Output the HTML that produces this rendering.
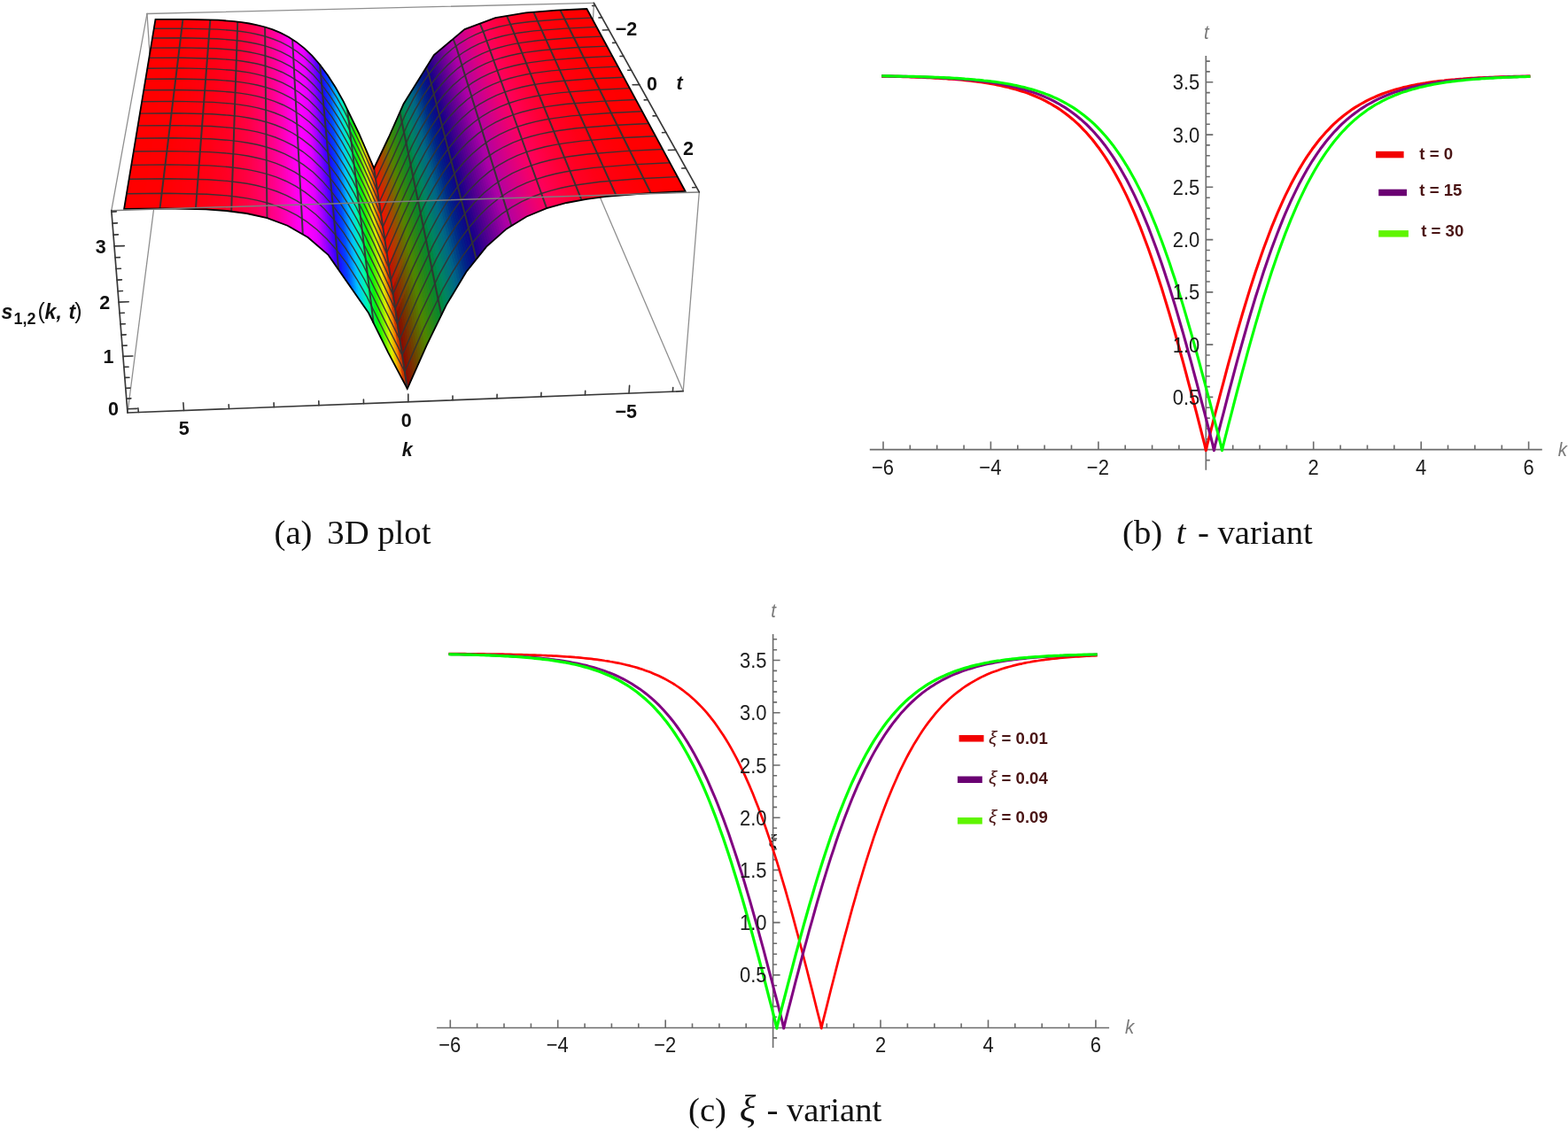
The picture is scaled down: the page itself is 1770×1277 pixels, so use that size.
<!DOCTYPE html>
<html lang="en"><head><meta charset="utf-8"><title>Figure: 3D plot, t - variant, xi - variant</title>
<style>html,body{margin:0;padding:0;background:#fff}body{width:1770px;height:1277px;overflow:hidden}svg{display:block}text{white-space:pre}</style></head><body>
<svg width="1770" height="1277" viewBox="0 0 1770 1277">
<rect width="1770" height="1277" fill="#fff"/>
<g id="plot3d">
<g id="box-back" fill="none" stroke-linecap="round">
<line x1="144" y1="466" x2="178.2" y2="200.2" stroke="#8f8f8f" stroke-width="1.3"/>
<line x1="771.2" y1="441.7" x2="661.4" y2="185.6" stroke="#8f8f8f" stroke-width="1.3"/>
<line x1="166" y1="15.5" x2="178.2" y2="200.2" stroke="#8f8f8f" stroke-width="1.3"/>
<line x1="670.4" y1="3.3" x2="661.4" y2="185.6" stroke="#8f8f8f" stroke-width="1.3"/>
<line x1="178.2" y1="200.2" x2="661.4" y2="185.6" stroke="#8f8f8f" stroke-width="1.3"/>
<line x1="166" y1="15.5" x2="670.4" y2="3.3" stroke="#8f8f8f" stroke-width="1.3"/>
<line x1="166" y1="15.5" x2="125.8" y2="237.7" stroke="#8f8f8f" stroke-width="1.3"/>
</g>
<g id="surf" stroke-width="0.5" stroke-linejoin="round" shape-rendering="crispEdges">
<polygon points="662.4,10 667.8,20.1 764.7,199.6 773.6,216 771.4,216.1 762.5,199.7 666.1,20.2 660.7,10.1" fill="#ff0000" stroke="#ff0000"/>
<polygon points="660.7,10.1 666.1,20.2 762.5,199.7 771.4,216.1 769.1,216.3 760.3,199.8 664.3,20.3 659,10.2" fill="#ff0000" stroke="#ff0000"/>
<polygon points="659,10.2 664.3,20.3 760.3,199.8 769.1,216.3 766.9,216.4 758.2,199.9 662.6,20.3 657.3,10.3" fill="#ff0000" stroke="#ff0000"/>
<polygon points="657.3,10.3 662.6,20.3 758.2,199.9 766.9,216.4 764.7,216.5 756,200 660.9,20.4 655.5,10.4" fill="#ff0001" stroke="#ff0001"/>
<polygon points="655.5,10.4 660.9,20.4 756,200 764.7,216.5 762.5,216.6 753.8,200.2 659.1,20.5 653.8,10.4" fill="#ff0001" stroke="#ff0001"/>
<polygon points="653.8,10.4 659.1,20.5 753.8,200.2 762.5,216.6 760.3,216.7 751.6,200.3 657.4,20.6 652.1,10.5" fill="#ff0001" stroke="#ff0001"/>
<polygon points="652.1,10.5 657.4,20.6 751.6,200.3 760.3,216.7 758,216.8 749.4,200.4 655.7,20.7 650.4,10.6" fill="#ff0001" stroke="#ff0001"/>
<polygon points="650.4,10.6 655.7,20.7 749.4,200.4 758,216.8 755.8,216.9 747.3,200.5 653.9,20.7 648.7,10.7" fill="#ff0001" stroke="#ff0001"/>
<polygon points="648.7,10.7 653.9,20.7 747.3,200.5 755.8,216.9 753.6,217 745.1,200.6 652.2,20.8 647,10.8" fill="#ff0001" stroke="#ff0001"/>
<polygon points="647,10.8 652.2,20.8 745.1,200.6 753.6,217 751.4,217.2 742.9,200.7 650.4,20.9 645.3,10.8" fill="#ff0001" stroke="#ff0001"/>
<polygon points="645.3,10.8 650.4,20.9 742.9,200.7 751.4,217.2 749.1,217.3 740.7,200.8 648.7,21 643.5,10.9" fill="#ff0002" stroke="#ff0002"/>
<polygon points="643.5,10.9 648.7,21 740.7,200.8 749.1,217.3 746.9,217.4 738.5,200.9 647,21.1 641.8,11" fill="#ff0002" stroke="#ff0002"/>
<polygon points="641.8,11 647,21.1 738.5,200.9 746.9,217.4 744.7,217.5 736.4,201 645.2,21.1 640.1,11.1" fill="#ff0002" stroke="#ff0002"/>
<polygon points="640.1,11.1 645.2,21.1 736.4,201 744.7,217.5 742.5,217.6 734.2,201.1 643.5,21.2 638.4,11.2" fill="#ff0002" stroke="#ff0002"/>
<polygon points="638.4,11.2 643.5,21.2 734.2,201.1 742.5,217.6 740.2,217.7 732,201.2 641.7,21.3 636.7,11.2" fill="#ff0002" stroke="#ff0002"/>
<polygon points="636.7,11.2 641.7,21.3 732,201.2 740.2,217.7 738,217.8 729.8,201.4 640,21.4 635,11.3" fill="#ff0002" stroke="#ff0002"/>
<polygon points="635,11.3 640,21.4 729.8,201.4 738,217.8 735.8,217.9 727.6,201.5 638.3,21.5 633.2,11.4" fill="#ff0003" stroke="#ff0003"/>
<polygon points="633.2,11.4 638.3,21.5 727.6,201.5 735.8,217.9 733.6,218.1 725.4,201.6 636.5,21.5 631.5,11.5" fill="#ff0003" stroke="#ff0003"/>
<polygon points="631.5,11.5 636.5,21.5 725.4,201.6 733.6,218.1 731.4,218.2 723.3,201.7 634.8,21.6 629.8,11.5" fill="#ff0003" stroke="#ff0003"/>
<polygon points="629.8,11.5 634.8,21.6 723.3,201.7 731.4,218.2 729.1,218.3 721.1,201.8 633,21.7 628.1,11.6" fill="#ff0003" stroke="#ff0003"/>
<polygon points="628.1,11.6 633,21.7 721.1,201.8 729.1,218.3 726.9,218.5 718.9,202 631.3,21.8 626.4,11.8" fill="#ff0004" stroke="#ff0004"/>
<polygon points="626.4,11.8 631.3,21.8 718.9,202 726.9,218.5 724.7,218.6 716.7,202.1 629.5,22 624.7,11.9" fill="#ff0005" stroke="#ff0005"/>
<polygon points="624.7,11.9 629.5,22 716.7,202.1 724.7,218.6 722.4,218.8 714.5,202.3 627.8,22.1 622.9,12" fill="#ff0006" stroke="#ff0006"/>
<polygon points="622.9,12 627.8,22.1 714.5,202.3 722.4,218.8 720.2,219 712.3,202.5 626.1,22.3 621.2,12.2" fill="#ff0007" stroke="#ff0007"/>
<polygon points="621.2,12.2 626.1,22.3 712.3,202.5 720.2,219 718,219.2 710.1,202.7 624.3,22.4 619.5,12.3" fill="#ff0007" stroke="#ff0007"/>
<polygon points="619.5,12.3 624.3,22.4 710.1,202.7 718,219.2 715.7,219.4 707.9,202.9 622.6,22.5 617.8,12.4" fill="#ff0008" stroke="#ff0008"/>
<polygon points="617.8,12.4 622.6,22.5 707.9,202.9 715.7,219.4 713.5,219.5 705.7,203 620.8,22.7 616.1,12.6" fill="#ff0009" stroke="#ff0009"/>
<polygon points="616.1,12.6 620.8,22.7 705.7,203 713.5,219.5 711.3,219.7 703.6,203.2 619.1,22.8 614.3,12.7" fill="#ff000a" stroke="#ff000a"/>
<polygon points="614.3,12.7 619.1,22.8 703.6,203.2 711.3,219.7 709.1,219.9 701.4,203.4 617.3,23 612.6,12.9" fill="#ff000b" stroke="#ff000b"/>
<polygon points="612.6,12.9 617.3,23 701.4,203.4 709.1,219.9 706.8,220.1 699.2,203.6 615.6,23.1 610.9,13" fill="#ff000c" stroke="#ff000c"/>
<polygon points="610.9,13 615.6,23.1 699.2,203.6 706.8,220.1 704.6,220.3 697,203.7 613.8,23.2 609.2,13.1" fill="#ff000d" stroke="#ff000d"/>
<polygon points="609.2,13.1 613.8,23.2 697,203.7 704.6,220.3 702.4,220.4 694.8,203.9 612.1,23.4 607.5,13.3" fill="#ff000e" stroke="#ff000e"/>
<polygon points="607.5,13.3 612.1,23.4 694.8,203.9 702.4,220.4 700.1,220.6 692.6,204.1 610.3,23.5 605.7,13.4" fill="#ff000e" stroke="#ff000e"/>
<polygon points="605.7,13.4 610.3,23.5 692.6,204.1 700.1,220.6 697.9,220.8 690.4,204.3 608.6,23.7 604,13.6" fill="#ff000f" stroke="#ff000f"/>
<polygon points="604,13.6 608.6,23.7 690.4,204.3 697.9,220.8 695.7,221 688.2,204.4 606.9,23.8 602.3,13.7" fill="#ff0010" stroke="#ff0010"/>
<polygon points="602.3,13.7 606.9,23.8 688.2,204.4 695.7,221 693.4,221.2 686,204.6 605.1,23.9 600.6,13.8" fill="#ff0011" stroke="#ff0011"/>
<polygon points="600.6,13.8 605.1,23.9 686,204.6 693.4,221.2 691.2,221.3 683.8,204.8 603.4,24.1 598.9,14" fill="#ff0012" stroke="#ff0012"/>
<polygon points="598.9,14 603.4,24.1 683.8,204.8 691.2,221.3 689,221.5 681.6,205 601.6,24.2 597.1,14.1" fill="#ff0013" stroke="#ff0013"/>
<polygon points="597.1,14.1 601.6,24.2 681.6,205 689,221.5 686.7,221.7 679.4,205.2 599.9,24.4 595.4,14.2" fill="#ff0014" stroke="#ff0014"/>
<polygon points="595.4,14.2 599.9,24.4 679.4,205.2 686.7,221.7 684.5,221.9 677.3,205.3 598.1,24.5 593.7,14.4" fill="#ff0014" stroke="#ff0014"/>
<polygon points="593.7,14.4 598.1,24.5 677.3,205.3 684.5,221.9 682.3,222.2 675.1,205.6 596.4,24.7 592,14.7" fill="#ff0016" stroke="#ff0016"/>
<polygon points="592,14.7 596.4,24.7 675.1,205.6 682.3,222.2 680,222.5 672.9,205.9 594.6,25 590.2,15" fill="#ff0017" stroke="#ff0017"/>
<polygon points="590.2,15 594.6,25 672.9,205.9 680,222.5 677.8,222.8 670.7,206.2 592.9,25.2 588.5,15.2" fill="#ff0019" stroke="#ff0019"/>
<polygon points="588.5,15.2 592.9,25.2 670.7,206.2 677.8,222.8 675.5,223 668.5,206.5 591.1,25.4 586.8,15.5" fill="#ff001b" stroke="#ff001b"/>
<polygon points="586.8,15.5 591.1,25.4 668.5,206.5 675.5,223 673.3,223.3 666.3,206.8 589.4,25.7 585.1,15.8" fill="#ff001c" stroke="#ff001c"/>
<polygon points="585.1,15.8 589.4,25.7 666.3,206.8 673.3,223.3 671.1,223.6 664.1,207 587.6,25.9 583.3,16.1" fill="#ff001e" stroke="#ff001e"/>
<polygon points="583.3,16.1 587.6,25.9 664.1,207 671.1,223.6 668.8,223.9 661.9,207.3 585.9,26.1 581.6,16.4" fill="#ff0020" stroke="#ff0020"/>
<polygon points="581.6,16.4 585.9,26.1 661.9,207.3 668.8,223.9 666.6,224.2 659.7,207.6 584.1,26.4 579.9,16.7" fill="#ff0021" stroke="#ff0021"/>
<polygon points="579.9,16.7 584.1,26.4 659.7,207.6 666.6,224.2 664.3,224.5 657.5,207.9 582.4,26.6 578.2,17" fill="#ff0023" stroke="#ff0023"/>
<polygon points="578.2,17 582.4,26.6 657.5,207.9 664.3,224.5 662.1,224.8 655.3,208.2 580.6,26.8 576.4,17.3" fill="#ff0025" stroke="#ff0025"/>
<polygon points="576.4,17.3 580.6,26.8 655.3,208.2 662.1,224.8 659.8,225.2 653.1,208.6 578.9,27.1 574.7,17.5" fill="#ff0027" stroke="#ff0027"/>
<polygon points="574.7,17.5 578.9,27.1 653.1,208.6 659.8,225.2 657.6,225.6 650.9,208.9 577.1,27.5 573,17.8" fill="#ff0029" stroke="#ff0029"/>
<polygon points="573,17.8 577.1,27.5 650.9,208.9 657.6,225.6 655.4,226 648.6,209.3 575.4,27.8 571.3,18.1" fill="#ff002b" stroke="#ff002b"/>
<polygon points="571.3,18.1 575.4,27.8 648.6,209.3 655.4,226 653.1,226.5 646.4,209.7 573.6,28.1 569.5,18.4" fill="#ff002d" stroke="#ff002d"/>
<polygon points="569.5,18.4 573.6,28.1 646.4,209.7 653.1,226.5 650.9,226.9 644.2,210 571.9,28.4 567.8,18.7" fill="#ff0030" stroke="#ff0030"/>
<polygon points="567.8,18.7 571.9,28.4 644.2,210 650.9,226.9 648.6,227.3 642,210.5 570.1,28.8 566.1,19" fill="#ff0032" stroke="#ff0032"/>
<polygon points="566.1,19 570.1,28.8 642,210.5 648.6,227.3 646.4,227.7 639.8,211 568.4,29.2 564.4,19.3" fill="#ff0035" stroke="#ff0035"/>
<polygon points="564.4,19.3 568.4,29.2 639.8,211 646.4,227.7 644.1,228.1 637.6,211.4 566.6,29.5 562.6,19.6" fill="#ff0037" stroke="#ff0037"/>
<polygon points="562.6,19.6 566.6,29.5 637.6,211.4 644.1,228.1 641.9,228.6 635.4,211.9 564.9,29.9 560.9,19.8" fill="#ff003a" stroke="#ff003a"/>
<polygon points="560.9,19.8 564.9,29.9 635.4,211.9 641.9,228.6 639.6,229 633.2,212.3 563.1,30.3 559.2,20.1" fill="#ff003d" stroke="#ff003d"/>
<polygon points="559.2,20.1 563.1,30.3 633.2,212.3 639.6,229 637.4,229.6 631,212.9 561.3,30.8 557.4,20.8" fill="#ff0040" stroke="#ff0040"/>
<polygon points="557.4,20.8 561.3,30.8 631,212.9 637.4,229.6 635.1,230.2 628.8,213.4 559.6,31.2 555.7,21.4" fill="#ff0043" stroke="#ff0043"/>
<polygon points="555.7,21.4 559.6,31.2 628.8,213.4 635.1,230.2 632.9,230.8 626.6,214 557.8,31.7 554,22.1" fill="#ff0046" stroke="#ff0046"/>
<polygon points="554,22.1 557.8,31.7 626.6,214 632.9,230.8 630.6,231.5 624.4,214.5 556.1,32.2 552.2,22.7" fill="#ff0049" stroke="#ff0049"/>
<polygon points="552.2,22.7 556.1,32.2 624.4,214.5 630.6,231.5 628.3,232.1 622.2,215.1 554.3,32.7 550.5,23.4" fill="#ff004c" stroke="#ff004c"/>
<polygon points="550.5,23.4 554.3,32.7 622.2,215.1 628.3,232.1 626.1,232.7 619.9,215.8 552.6,33.2 548.8,24" fill="#ff0050" stroke="#ff0050"/>
<polygon points="548.8,24 552.6,33.2 619.9,215.8 626.1,232.7 623.8,233.3 617.7,216.4 550.8,33.8 547,24.7" fill="#fe0053" stroke="#fe0053"/>
<polygon points="547,24.7 550.8,33.8 617.7,216.4 623.8,233.3 621.6,234 615.5,217.1 549.1,34.4 545.3,25.3" fill="#fe0057" stroke="#fe0057"/>
<polygon points="545.3,25.3 549.1,34.4 615.5,217.1 621.6,234 619.3,234.6 613.3,217.8 547.3,35 543.6,26" fill="#fd005a" stroke="#fd005a"/>
<polygon points="543.6,26 547.3,35 613.3,217.8 619.3,234.6 617.1,235.2 611.1,218.5 545.5,35.5 541.8,26.6" fill="#fd005e" stroke="#fd005e"/>
<polygon points="541.8,26.6 545.5,35.5 611.1,218.5 617.1,235.2 614.8,236.1 608.9,219.3 543.8,36.3 540.1,27.3" fill="#fb0062" stroke="#fb0062"/>
<polygon points="540.1,27.3 543.8,36.3 608.9,219.3 614.8,236.1 612.6,237.1 606.6,220.1 542,37 538.4,27.9" fill="#f80065" stroke="#f80065"/>
<polygon points="538.4,27.9 542,37 606.6,220.1 612.6,237.1 610.3,238 604.4,220.9 540.3,37.7 536.7,28.6" fill="#f40069" stroke="#f40069"/>
<polygon points="536.7,28.6 540.3,37.7 604.4,220.9 610.3,238 608,238.9 602.2,221.8 538.5,38.4 534.9,29.2" fill="#f1006d" stroke="#f1006d"/>
<polygon points="534.9,29.2 538.5,38.4 602.2,221.8 608,238.9 605.8,239.9 600,222.6 536.7,39.1 533.2,29.9" fill="#ee0071" stroke="#ee0071"/>
<polygon points="533.2,29.9 536.7,39.1 600,222.6 605.8,239.9 603.5,240.8 597.8,223.6 535,40 531.5,30.5" fill="#ea0074" stroke="#ea0074"/>
<polygon points="531.5,30.5 535,40 597.8,223.6 603.5,240.8 601.2,241.7 595.5,224.6 533.2,40.8 529.7,31.2" fill="#e60078" stroke="#e60078"/>
<polygon points="529.7,31.2 533.2,40.8 595.5,224.6 601.2,241.7 599,242.7 593.3,225.6 531.5,41.7 528,31.8" fill="#e2007c" stroke="#e2007c"/>
<polygon points="528,31.8 531.5,41.7 593.3,225.6 599,242.7 596.7,243.6 591.1,226.7 529.7,42.6 526.3,32.5" fill="#de007f" stroke="#de007f"/>
<polygon points="526.3,32.5 529.7,42.6 591.1,226.7 596.7,243.6 594.5,244.5 588.9,227.7 528,43.5 524.5,33.1" fill="#da0083" stroke="#da0083"/>
<polygon points="524.5,33.1 528,43.5 588.9,227.7 594.5,244.5 592.2,245.9 586.7,228.9 526.2,44.5 522.8,34.6" fill="#d60087" stroke="#d60087"/>
<polygon points="522.8,34.6 526.2,44.5 586.7,228.9 592.2,245.9 589.9,247.3 584.4,230.2 524.4,45.6 521.1,36" fill="#d1008a" stroke="#d1008a"/>
<polygon points="521.1,36 524.4,45.6 584.4,230.2 589.9,247.3 587.6,248.7 582.2,231.4 522.7,46.7 519.3,37.5" fill="#cc008d" stroke="#cc008d"/>
<polygon points="519.3,37.5 522.7,46.7 582.2,231.4 587.6,248.7 585.4,250.1 580,232.6 520.9,47.7 517.6,38.9" fill="#c80091" stroke="#c80091"/>
<polygon points="517.6,38.9 520.9,47.7 580,232.6 585.4,250.1 583.1,251.5 577.8,233.9 519.2,48.8 515.8,40.4" fill="#c30094" stroke="#c30094"/>
<polygon points="515.8,40.4 519.2,48.8 577.8,233.9 583.1,251.5 580.8,252.9 575.5,235.4 517.4,50.1 514.1,41.8" fill="#bf0098" stroke="#bf0098"/>
<polygon points="514.1,41.8 517.4,50.1 575.5,235.4 580.8,252.9 578.6,254.3 573.3,236.9 515.6,51.4 512.4,43.3" fill="#ba009b" stroke="#ba009b"/>
<polygon points="512.4,43.3 515.6,51.4 573.3,236.9 578.6,254.3 576.3,255.7 571.1,238.4 513.9,52.7 510.6,44.7" fill="#b5009f" stroke="#b5009f"/>
<polygon points="510.6,44.7 513.9,52.7 571.1,238.4 576.3,255.7 574,257 568.8,239.9 512.1,54 508.9,46.2" fill="#b100a2" stroke="#b100a2"/>
<polygon points="508.9,46.2 512.1,54 568.8,239.9 574,257 571.8,258.4 566.6,241.4 510.4,55.3 507.2,47.6" fill="#ad00a5" stroke="#ad00a5"/>
<polygon points="507.2,47.6 510.4,55.3 566.6,241.4 571.8,258.4 569.5,260.5 564.4,243.2 508.6,56.9 505.4,49" fill="#a500a5" stroke="#a500a5"/>
<polygon points="505.4,49 508.6,56.9 564.4,243.2 569.5,260.5 567.2,262.5 562.2,245 506.8,58.4 503.7,50.5" fill="#9b00a2" stroke="#9b00a2"/>
<polygon points="503.7,50.5 506.8,58.4 562.2,245 567.2,262.5 564.9,264.5 559.9,246.9 505.1,60 502,51.9" fill="#9100a0" stroke="#9100a0"/>
<polygon points="502,51.9 505.1,60 559.9,246.9 564.9,264.5 562.7,266.5 557.7,248.7 503.3,61.6 500.2,53.4" fill="#86009d" stroke="#86009d"/>
<polygon points="500.2,53.4 503.3,61.6 557.7,248.7 562.7,266.5 560.4,268.6 555.5,250.5 501.6,63.1 498.5,54.8" fill="#7c009a" stroke="#7c009a"/>
<polygon points="498.5,54.8 501.6,63.1 555.5,250.5 560.4,268.6 558.1,270.6 553.2,252.7 499.8,65 496.8,56.2" fill="#720098" stroke="#720098"/>
<polygon points="496.8,56.2 499.8,65 553.2,252.7 558.1,270.6 555.8,272.6 551,254.9 498,66.9 495.1,57.7" fill="#680095" stroke="#680095"/>
<polygon points="495.1,57.7 498,66.9 551,254.9 555.8,272.6 553.6,274.6 548.8,257 496.3,68.8 493.3,59.1" fill="#5e0093" stroke="#5e0093"/>
<polygon points="493.3,59.1 496.3,68.8 548.8,257 553.6,274.6 551.3,276.7 546.6,259.2 494.5,70.7 491.6,60.5" fill="#540091" stroke="#540091"/>
<polygon points="491.6,60.5 494.5,70.7 546.6,259.2 551.3,276.7 549,278.7 544.3,261.4 492.8,72.6 489.9,62" fill="#4a008f" stroke="#4a008f"/>
<polygon points="489.9,62 492.8,72.6 544.3,261.4 549,278.7 546.8,281.5 542.1,264 491,74.8 488.2,64.8" fill="#40008d" stroke="#40008d"/>
<polygon points="488.2,64.8 491,74.8 542.1,264 546.8,281.5 544.5,284.4 539.9,266.6 489.3,77 486.4,67.6" fill="#36008c" stroke="#36008c"/>
<polygon points="486.4,67.6 489.3,77 539.9,266.6 544.5,284.4 542.2,287.2 537.6,269.2 487.5,79.2 484.7,70.4" fill="#2b008b" stroke="#2b008b"/>
<polygon points="484.7,70.4 487.5,79.2 537.6,269.2 542.2,287.2 539.9,290 535.4,271.7 485.8,81.5 483,73.1" fill="#21008a" stroke="#21008a"/>
<polygon points="483,73.1 485.8,81.5 535.4,271.7 539.9,290 537.7,292.9 533.2,274.3 484,83.7 481.2,75.9" fill="#170089" stroke="#170089"/>
<polygon points="481.2,75.9 484,83.7 533.2,274.3 537.7,292.9 535.4,295.7 531,277.3 482.3,86.3 479.5,78.7" fill="#100489" stroke="#100489"/>
<polygon points="479.5,78.7 482.3,86.3 531,277.3 535.4,295.7 533.1,298.5 528.7,280.4 480.5,88.9 477.8,81.5" fill="#0d0c89" stroke="#0d0c89"/>
<polygon points="477.8,81.5 480.5,88.9 528.7,280.4 533.1,298.5 530.9,301.4 526.5,283.4 478.8,91.5 476.1,84.2" fill="#091388" stroke="#091388"/>
<polygon points="476.1,84.2 478.8,91.5 526.5,283.4 530.9,301.4 528.6,304.2 524.3,286.4 477,94.1 474.4,87" fill="#051b88" stroke="#051b88"/>
<polygon points="474.4,87 477,94.1 524.3,286.4 528.6,304.2 526.3,307 522.1,289.4 475.3,96.7 472.6,89.8" fill="#022388" stroke="#022388"/>
<polygon points="472.6,89.8 475.3,96.7 522.1,289.4 526.3,307 524.1,310.8 519.9,292.9 473.5,99.7 470.9,92.5" fill="#002d87" stroke="#002d87"/>
<polygon points="470.9,92.5 473.5,99.7 519.9,292.9 524.1,310.8 521.8,314.5 517.6,296.4 471.8,102.7 469.2,95.3" fill="#003a87" stroke="#003a87"/>
<polygon points="469.2,95.3 471.8,102.7 517.6,296.4 521.8,314.5 519.5,318.3 515.4,299.8 470.1,105.6 467.5,98" fill="#004787" stroke="#004787"/>
<polygon points="467.5,98 470.1,105.6 515.4,299.8 519.5,318.3 517.3,322 513.2,303.3 468.3,108.6 465.8,100.8" fill="#005487" stroke="#005487"/>
<polygon points="465.8,100.8 468.3,108.6 513.2,303.3 517.3,322 515,325.8 511,306.8 466.6,111.6 464.1,103.5" fill="#006187" stroke="#006187"/>
<polygon points="464.1,103.5 466.6,111.6 511,306.8 515,325.8 512.8,329.5 508.8,310.7 464.9,115 462.4,106.3" fill="#006a83" stroke="#006a83"/>
<polygon points="462.4,106.3 464.9,115 508.8,310.7 512.8,329.5 510.5,333.2 506.6,314.6 463.1,118.3 460.7,109" fill="#00717b" stroke="#00717b"/>
<polygon points="460.7,109 463.1,118.3 506.6,314.6 510.5,333.2 508.3,337 504.4,318.5 461.4,121.7 459,111.8" fill="#007772" stroke="#007772"/>
<polygon points="459,111.8 461.4,121.7 504.4,318.5 508.3,337 506.1,340.7 502.2,322.4 459.7,125 457.3,114.5" fill="#007e6a" stroke="#007e6a"/>
<polygon points="457.3,114.5 459.7,125 502.2,322.4 506.1,340.7 503.8,344.4 500,326.3 458,128.4 455.6,117.2" fill="#008461" stroke="#008461"/>
<polygon points="455.6,117.2 458,128.4 500,326.3 503.8,344.4 501.6,349 497.8,330.8 456.2,132.2 453.9,121" fill="#008755" stroke="#008755"/>
<polygon points="453.9,121 456.2,132.2 497.8,330.8 501.6,349 499.3,353.5 495.6,335.4 454.5,136 452.2,124.9" fill="#008743" stroke="#008743"/>
<polygon points="452.2,124.9 454.5,136 495.6,335.4 499.3,353.5 497.1,358.1 493.4,339.9 452.8,139.9 450.5,128.6" fill="#008732" stroke="#008732"/>
<polygon points="450.5,128.6 452.8,139.9 493.4,339.9 497.1,358.1 494.9,362.6 491.2,344.4 451.1,143.7 448.8,132.4" fill="#0a872b" stroke="#0a872b"/>
<polygon points="448.8,132.4 451.1,143.7 491.2,344.4 494.9,362.6 492.6,367.2 489,348.8 449.4,147.5 447.2,136.2" fill="#158725" stroke="#158725"/>
<polygon points="447.2,136.2 449.4,147.5 489,348.8 492.6,367.2 490.4,371.7 486.9,353.3 447.7,151.3 445.5,140" fill="#1f871e" stroke="#1f871e"/>
<polygon points="445.5,140 447.7,151.3 486.9,353.3 490.4,371.7 488.2,376.2 484.7,357.8 446,155.2 443.8,143.8" fill="#2a8717" stroke="#2a8717"/>
<polygon points="443.8,143.8 446,155.2 484.7,357.8 488.2,376.2 486,380.8 482.5,362.2 444.3,159 442.1,147.5" fill="#348711" stroke="#348711"/>
<polygon points="442.1,147.5 444.3,159 482.5,362.2 486,380.8 483.8,385.3 480.4,366.7 442.6,162.8 440.5,151.3" fill="#3f870a" stroke="#3f870a"/>
<polygon points="440.5,151.3 442.6,162.8 480.4,366.7 483.8,385.3 481.6,389.8 478.2,371.1 440.9,166.5 438.8,155" fill="#498703" stroke="#498703"/>
<polygon points="438.8,155 440.9,166.5 478.2,371.1 481.6,389.8 479.4,394.7 476,376 439.2,170.2 437.1,158.6" fill="#568100" stroke="#568100" stroke-width="1"/>
<polygon points="437.1,158.6 439.2,170.2 476,376 479.4,394.7 477.2,399.7 473.9,380.9 437.5,173.8 435.5,162.1" fill="#657400" stroke="#657400" stroke-width="1"/>
<polygon points="435.5,162.1 437.5,173.8 473.9,380.9 477.2,399.7 475,404.7 471.7,385.8 435.8,177.4 433.8,165.6" fill="#736700" stroke="#736700" stroke-width="1"/>
<polygon points="433.8,165.6 435.8,177.4 471.7,385.8 475,404.7 472.8,409.6 469.6,390.7 434.1,181 432.1,169.1" fill="#825b00" stroke="#825b00" stroke-width="1"/>
<polygon points="432.1,169.1 434.1,181 469.6,390.7 472.8,409.6 470.6,414.5 467.5,395.6 432.5,184.6 430.5,172.6" fill="#914e00" stroke="#914e00" stroke-width="1"/>
<polygon points="430.5,172.6 432.5,184.6 467.5,395.6 470.6,414.5 468.5,419.5 465.3,400.4 430.8,188.2 428.8,176.1" fill="#a04100" stroke="#a04100" stroke-width="1"/>
<polygon points="428.8,176.1 430.8,188.2 465.3,400.4 468.5,419.5 466.3,424.4 463.2,405.3 429.1,191.8 427.2,179.5" fill="#af3400" stroke="#af3400" stroke-width="1"/>
<polygon points="427.2,179.5 429.1,191.8 463.2,405.3 466.3,424.4 464.1,429.3 461.1,410.1 427.4,195.4 425.5,183" fill="#bd2800" stroke="#bd2800" stroke-width="1"/>
<polygon points="425.5,183 427.4,195.4 461.1,410.1 464.1,429.3 462,434.2 459,414.9 425.8,199 423.9,186.5" fill="#cc1b00" stroke="#cc1b00" stroke-width="1"/>
<polygon points="423.9,186.5 425.8,199 459,414.9 462,434.2 459.8,439 456.9,419.7 424.1,202.5 422.2,190" fill="#db0e00" stroke="#db0e00" stroke-width="1"/>
<polygon points="422.2,190 424.1,202.5 456.9,419.7 459.8,439 457.7,435 454.7,415.6 422.4,198.6 420.5,186" fill="#e51800" stroke="#e51800" stroke-width="1"/>
<polygon points="420.5,186 422.4,198.6 454.7,415.6 457.7,435 455.5,430.9 452.6,411.5 420.6,194.6 418.8,182.1" fill="#ea3a00" stroke="#ea3a00" stroke-width="1"/>
<polygon points="418.8,182.1 420.6,194.6 452.6,411.5 455.5,430.9 453.4,426.8 450.5,407.4 418.9,190.7 417.1,178.2" fill="#ef5b00" stroke="#ef5b00"/>
<polygon points="417.1,178.2 418.9,190.7 450.5,407.4 453.4,426.8 451.2,422.8 448.4,403.3 417.2,186.7 415.4,174.3" fill="#ef7c00" stroke="#ef7c00"/>
<polygon points="415.4,174.3 417.2,186.7 448.4,403.3 451.2,422.8 449.1,418.7 446.3,399.2 415.4,182.7 413.7,170.3" fill="#ef9d00" stroke="#ef9d00"/>
<polygon points="413.7,170.3 415.4,182.7 446.3,399.2 449.1,418.7 446.9,414.6 444.1,395.1 413.7,178.7 412,166.4" fill="#ecbb00" stroke="#ecbb00"/>
<polygon points="412,166.4 413.7,178.7 444.1,395.1 446.9,414.6 444.7,410.5 442,390.9 412,174.7 410.3,162.4" fill="#e6d600" stroke="#e6d600"/>
<polygon points="410.3,162.4 412,174.7 442,390.9 444.7,410.5 442.5,406.3 439.9,386.8 410.2,170.7 408.5,158.4" fill="#dff000" stroke="#dff000"/>
<polygon points="408.5,158.4 410.2,170.7 439.9,386.8 442.5,406.3 440.4,402.2 437.7,382.6 408.5,166.7 406.8,154.5" fill="#bef100" stroke="#bef100"/>
<polygon points="406.8,154.5 408.5,166.7 437.7,382.6 440.4,402.2 438.2,398.1 435.6,378.5 406.7,162.7 405.1,150.5" fill="#9df200" stroke="#9df200"/>
<polygon points="405.1,150.5 406.7,162.7 435.6,378.5 438.2,398.1 436,393.6 433.4,374.1 404.9,159 403.3,146.9" fill="#7df200" stroke="#7df200"/>
<polygon points="403.3,146.9 404.9,159 433.4,374.1 436,393.6 433.8,389.2 431.2,369.7 403.2,155.4 401.6,143.3" fill="#5ff300" stroke="#5ff300"/>
<polygon points="401.6,143.3 403.2,155.4 431.2,369.7 433.8,389.2 431.6,384.8 429.1,365.3 401.4,151.8 399.9,139.7" fill="#40f400" stroke="#40f400"/>
<polygon points="399.9,139.7 401.4,151.8 429.1,365.3 431.6,384.8 429.4,380.3 426.9,360.9 399.7,148.1 398.1,136.1" fill="#27f405" stroke="#27f405"/>
<polygon points="398.1,136.1 399.7,148.1 426.9,360.9 429.4,380.3 427.2,375.8 424.7,356.5 397.9,144.5 396.4,132.5" fill="#0df50b" stroke="#0df50b"/>
<polygon points="396.4,132.5 397.9,144.5 424.7,356.5 427.2,375.8 424.9,371.3 422.5,352.1 396.1,140.8 394.6,128.9" fill="#00f61d" stroke="#00f61d"/>
<polygon points="394.6,128.9 396.1,140.8 422.5,352.1 424.9,371.3 422.7,366.8 420.3,347.7 394.3,137.1 392.9,125.3" fill="#00f73d" stroke="#00f73d"/>
<polygon points="392.9,125.3 394.3,137.1 420.3,347.7 422.7,366.8 420.5,362.3 418.2,343.3 392.6,133.5 391.1,121.6" fill="#00f85c" stroke="#00f85c"/>
<polygon points="391.1,121.6 392.6,133.5 418.2,343.3 420.5,362.3 418.2,357.8 416,338.8 390.8,129.8 389.4,118" fill="#00f97c" stroke="#00f97c"/>
<polygon points="389.4,118 390.8,129.8 416,338.8 418.2,357.8 416,353.3 413.8,334.3 389,126.1 387.6,114.4" fill="#00fb9d" stroke="#00fb9d"/>
<polygon points="387.6,114.4 389,126.1 413.8,334.3 416,353.3 413.8,350.1 411.6,330.5 387.2,122.9 385.9,111.2" fill="#00f6b5" stroke="#00f6b5"/>
<polygon points="385.9,111.2 387.2,122.9 411.6,330.5 413.8,350.1 411.5,346.9 409.3,326.6 385.4,119.7 384.1,108.1" fill="#00ebc6" stroke="#00ebc6"/>
<polygon points="384.1,108.1 385.4,119.7 409.3,326.6 411.5,346.9 409.3,343.6 407.1,322.7 383.7,116.6 382.3,105" fill="#00e0d6" stroke="#00e0d6"/>
<polygon points="382.3,105 383.7,116.6 407.1,322.7 409.3,343.6 407,340.4 404.9,318.9 381.9,113.4 380.6,101.8" fill="#00d5e6" stroke="#00d5e6"/>
<polygon points="380.6,101.8 381.9,113.4 404.9,318.9 407,340.4 404.8,337.2 402.7,315 380.1,110.2 378.8,98.7" fill="#00cbf7" stroke="#00cbf7"/>
<polygon points="378.8,98.7 380.1,110.2 402.7,315 404.8,337.2 402.5,333.9 400.5,311.5 378.3,107.4 377,96" fill="#00b9ff" stroke="#00b9ff"/>
<polygon points="377,96 378.3,107.4 400.5,311.5 402.5,333.9 400.3,330.7 398.3,308.1 376.5,104.6 375.3,93.2" fill="#00a1ff" stroke="#00a1ff"/>
<polygon points="375.3,93.2 376.5,104.6 398.3,308.1 400.3,330.7 398,327.4 396,304.6 374.7,101.8 373.5,90.4" fill="#0088ff" stroke="#0088ff"/>
<polygon points="373.5,90.4 374.7,101.8 396,304.6 398,327.4 395.8,324.2 393.8,301.2 372.9,99 371.7,87.7" fill="#0070ff" stroke="#0070ff"/>
<polygon points="371.7,87.7 372.9,99 393.8,301.2 395.8,324.2 393.5,320.9 391.6,297.7 371.1,96.2 370,84.9" fill="#0057ff" stroke="#0057ff"/>
<polygon points="370,84.9 371.1,96.2 391.6,297.7 393.5,320.9 391.2,317.6 389.3,294.8 369.3,93.8 368.2,82.5" fill="#0444ff" stroke="#0444ff"/>
<polygon points="368.2,82.5 369.3,93.8 389.3,294.8 391.2,317.6 388.9,314.4 387.1,291.8 367.5,91.4 366.4,80.1" fill="#0b35ff" stroke="#0b35ff"/>
<polygon points="366.4,80.1 367.5,91.4 387.1,291.8 388.9,314.4 386.7,311.1 384.8,288.8 365.7,89 364.7,77.7" fill="#1226ff" stroke="#1226ff"/>
<polygon points="364.7,77.7 365.7,89 384.8,288.8 386.7,311.1 384.4,307.8 382.6,285.8 363.9,86.5 362.9,75.4" fill="#1917ff" stroke="#1917ff"/>
<polygon points="362.9,75.4 363.9,86.5 382.6,285.8 384.4,307.8 382.1,304.5 380.4,282.8 362.1,84.1 361.1,73" fill="#2108ff" stroke="#2108ff"/>
<polygon points="361.1,73 362.1,84.1 380.4,282.8 382.1,304.5 379.8,301.2 378.1,280.2 360.3,82.1 359.3,70.9" fill="#2f00ff" stroke="#2f00ff"/>
<polygon points="359.3,70.9 360.3,82.1 378.1,280.2 379.8,301.2 377.5,297.9 375.9,277.7 358.5,80 357.6,68.9" fill="#4300ff" stroke="#4300ff"/>
<polygon points="357.6,68.9 358.5,80 375.9,277.7 377.5,297.9 375.2,294.6 373.6,275.1 356.7,77.9 355.8,66.9" fill="#5700ff" stroke="#5700ff"/>
<polygon points="355.8,66.9 356.7,77.9 373.6,275.1 375.2,294.6 372.9,291.3 371.4,272.6 354.9,75.9 354,64.9" fill="#6b00ff" stroke="#6b00ff"/>
<polygon points="354,64.9 354.9,75.9 371.4,272.6 372.9,291.3 370.6,287.9 369.1,270 353.1,73.8 352.3,62.8" fill="#8000ff" stroke="#8000ff"/>
<polygon points="352.3,62.8 353.1,73.8 369.1,270 370.6,287.9 368.3,286 366.9,267.9 351.4,72.1 350.5,61.1" fill="#9300ff" stroke="#9300ff"/>
<polygon points="350.5,61.1 351.4,72.1 366.9,267.9 368.3,286 366,284 364.6,265.7 349.6,70.4 348.7,59.5" fill="#a500ff" stroke="#a500ff"/>
<polygon points="348.7,59.5 349.6,70.4 364.6,265.7 366,284 363.7,282 362.4,263.6 347.8,68.7 346.9,57.8" fill="#b700ff" stroke="#b700ff"/>
<polygon points="346.9,57.8 347.8,68.7 362.4,263.6 363.7,282 361.4,280 360.1,261.4 346,67 345.2,56.1" fill="#c900ff" stroke="#c900ff"/>
<polygon points="345.2,56.1 346,67 360.1,261.4 361.4,280 359.1,278 357.8,259.3 344.1,65.2 343.4,54.4" fill="#db00ff" stroke="#db00ff"/>
<polygon points="343.4,54.4 344.1,65.2 357.8,259.3 359.1,278 356.8,276 355.6,257.5 342.4,63.8 341.6,53" fill="#e700ff" stroke="#e700ff"/>
<polygon points="341.6,53 342.4,63.8 355.6,257.5 356.8,276 354.5,274 353.3,255.8 340.6,62.4 339.8,51.6" fill="#ec00ff" stroke="#ec00ff"/>
<polygon points="339.8,51.6 340.6,62.4 353.3,255.8 354.5,274 352.2,272 351.1,254 338.8,61 338.1,50.2" fill="#f200ff" stroke="#f200ff"/>
<polygon points="338.1,50.2 338.8,61 351.1,254 352.2,272 349.9,270 348.8,252.2 337,59.6 336.3,48.8" fill="#f700ff" stroke="#f700ff"/>
<polygon points="336.3,48.8 337,59.6 348.8,252.2 349.9,270 347.6,268 346.5,250.4 335.2,58.1 334.5,47.4" fill="#fc00ff" stroke="#fc00ff"/>
<polygon points="334.5,47.4 335.2,58.1 346.5,250.4 347.6,268 345.3,266.7 344.3,249 333.4,57 332.7,46.3" fill="#ff00ff" stroke="#ff00ff"/>
<polygon points="332.7,46.3 333.4,57 344.3,249 345.3,266.7 343,265.4 342,247.5 331.6,55.8 331,45.1" fill="#ff00ff" stroke="#ff00ff"/>
<polygon points="331,45.1 331.6,55.8 342,247.5 343,265.4 340.7,264.1 339.8,246.1 329.8,54.7 329.2,44" fill="#ff00ff" stroke="#ff00ff"/>
<polygon points="329.2,44 329.8,54.7 339.8,246.1 340.7,264.1 338.4,262.7 337.5,244.6 328,53.5 327.4,42.8" fill="#ff00f8" stroke="#ff00f8"/>
<polygon points="327.4,42.8 328,53.5 337.5,244.6 338.4,262.7 336.1,261.4 335.2,243.2 326.2,52.4 325.7,41.7" fill="#ff00f0" stroke="#ff00f0"/>
<polygon points="325.7,41.7 326.2,52.4 335.2,243.2 336.1,261.4 333.8,260.1 333,242 324.4,51.4 323.9,40.8" fill="#ff00e8" stroke="#ff00e8"/>
<polygon points="323.9,40.8 324.4,51.4 333,242 333.8,260.1 331.5,258.7 330.7,240.9 322.6,50.5 322.1,39.9" fill="#ff00de" stroke="#ff00de"/>
<polygon points="322.1,39.9 322.6,50.5 330.7,240.9 331.5,258.7 329.2,257.4 328.5,239.7 320.8,49.6 320.3,38.9" fill="#ff00d5" stroke="#ff00d5"/>
<polygon points="320.3,38.9 320.8,49.6 328.5,239.7 329.2,257.4 326.9,256.1 326.2,238.5 319,48.6 318.6,38" fill="#ff00cb" stroke="#ff00cb"/>
<polygon points="318.6,38 319,48.6 326.2,238.5 326.9,256.1 324.5,254.7 323.9,237.4 317.2,47.7 316.8,37.1" fill="#ff00c2" stroke="#ff00c2"/>
<polygon points="316.8,37.1 317.2,47.7 323.9,237.4 324.5,254.7 322.2,253.9 321.7,236.4 315.4,47 315,36.4" fill="#ff00b9" stroke="#ff00b9"/>
<polygon points="315,36.4 315.4,47 321.7,236.4 322.2,253.9 319.9,253 319.4,235.5 313.6,46.2 313.3,35.6" fill="#ff00b1" stroke="#ff00b1"/>
<polygon points="313.3,35.6 313.6,46.2 319.4,235.5 319.9,253 317.6,252.2 317.1,234.6 311.8,45.5 311.5,34.9" fill="#ff00a9" stroke="#ff00a9"/>
<polygon points="311.5,34.9 311.8,45.5 317.1,234.6 317.6,252.2 315.3,251.3 314.9,233.6 310,44.7 309.7,34.2" fill="#ff00a1" stroke="#ff00a1"/>
<polygon points="309.7,34.2 310,44.7 314.9,233.6 315.3,251.3 313,250.5 312.6,232.7 308.2,44 307.9,33.4" fill="#ff0099" stroke="#ff0099"/>
<polygon points="307.9,33.4 308.2,44 312.6,232.7 313,250.5 310.7,249.6 310.4,232 306.4,43.4 306.2,32.9" fill="#ff0092" stroke="#ff0092"/>
<polygon points="306.2,32.9 306.4,43.4 310.4,232 310.7,249.6 308.4,248.8 308.1,231.2 304.6,42.8 304.4,32.3" fill="#ff008b" stroke="#ff008b"/>
<polygon points="304.4,32.3 304.6,42.8 308.1,231.2 308.4,248.8 306.1,247.9 305.8,230.5 302.8,42.2 302.6,31.7" fill="#ff0085" stroke="#ff0085"/>
<polygon points="302.6,31.7 302.8,42.2 305.8,230.5 306.1,247.9 303.8,247.1 303.6,229.7 301,41.6 300.9,31.1" fill="#ff007e" stroke="#ff007e"/>
<polygon points="300.9,31.1 301,41.6 303.6,229.7 303.8,247.1 301.5,246.2 301.3,229 299.2,41 299.1,30.5" fill="#ff0078" stroke="#ff0078"/>
<polygon points="299.1,30.5 299.2,41 301.3,229 301.5,246.2 299.2,245.7 299,228.4 297.4,40.6 297.3,30.1" fill="#ff0072" stroke="#ff0072"/>
<polygon points="297.3,30.1 297.4,40.6 299,228.4 299.2,245.7 296.9,245.2 296.8,227.8 295.6,40.1 295.6,29.6" fill="#ff006c" stroke="#ff006c"/>
<polygon points="295.6,29.6 295.6,40.1 296.8,227.8 296.9,245.2 294.6,244.7 294.5,227.3 293.8,39.6 293.8,29.2" fill="#ff0067" stroke="#ff0067"/>
<polygon points="293.8,29.2 293.8,39.6 294.5,227.3 294.6,244.7 292.3,244.2 292.3,226.7 292,39.2 292,28.7" fill="#ff0062" stroke="#ff0062"/>
<polygon points="292,28.7 292,39.2 292.3,226.7 292.3,244.2 290,243.6 290,226.1 290.3,38.7 290.3,28.3" fill="#ff005d" stroke="#ff005d"/>
<polygon points="290.3,28.3 290.3,38.7 290,226.1 290,243.6 287.7,243.1 287.7,225.7 288.5,38.4 288.5,27.9" fill="#ff0058" stroke="#ff0058"/>
<polygon points="288.5,27.9 288.5,38.4 287.7,225.7 287.7,243.1 285.4,242.6 285.5,225.2 286.7,38 286.7,27.5" fill="#ff0054" stroke="#ff0054"/>
<polygon points="286.7,27.5 286.7,38 285.5,225.2 285.4,242.6 283.1,242.1 283.2,224.8 284.9,37.6 285,27.2" fill="#ff0050" stroke="#ff0050"/>
<polygon points="285,27.2 284.9,37.6 283.2,224.8 283.1,242.1 280.8,241.6 281,224.3 283.1,37.3 283.2,26.8" fill="#ff004b" stroke="#ff004b"/>
<polygon points="283.2,26.8 283.1,37.3 281,224.3 280.8,241.6 278.5,241 278.7,223.9 281.3,36.9 281.4,26.5" fill="#ff0047" stroke="#ff0047"/>
<polygon points="281.4,26.5 281.3,36.9 278.7,223.9 278.5,241 276.2,240.7 276.4,223.5 279.5,36.6 279.7,26.2" fill="#ff0043" stroke="#ff0043"/>
<polygon points="279.7,26.2 279.5,36.6 276.4,223.5 276.2,240.7 273.9,240.4 274.2,223.2 277.7,36.4 277.9,25.9" fill="#ff0040" stroke="#ff0040"/>
<polygon points="277.9,25.9 277.7,36.4 274.2,223.2 273.9,240.4 271.6,240.1 271.9,222.9 275.9,36.1 276.1,25.7" fill="#ff003d" stroke="#ff003d"/>
<polygon points="276.1,25.7 275.9,36.1 271.9,222.9 271.6,240.1 269.3,239.8 269.7,222.5 274.1,35.8 274.4,25.4" fill="#ff003a" stroke="#ff003a"/>
<polygon points="274.4,25.4 274.1,35.8 269.7,222.5 269.3,239.8 266.9,239.5 267.4,222.2 272.3,35.5 272.6,25.1" fill="#ff0036" stroke="#ff0036"/>
<polygon points="272.6,25.1 272.3,35.5 267.4,222.2 266.9,239.5 264.6,239.2 265.1,221.9 270.5,35.3 270.8,24.9" fill="#ff0033" stroke="#ff0033"/>
<polygon points="270.8,24.9 270.5,35.3 265.1,221.9 264.6,239.2 262.3,238.9 262.9,221.7 268.7,35.1 269.1,24.7" fill="#ff0031" stroke="#ff0031"/>
<polygon points="269.1,24.7 268.7,35.1 262.9,221.7 262.3,238.9 260,238.6 260.6,221.4 267,34.9 267.3,24.5" fill="#ff002e" stroke="#ff002e"/>
<polygon points="267.3,24.5 267,34.9 260.6,221.4 260,238.6 257.7,238.3 258.4,221.1 265.2,34.7 265.5,24.3" fill="#ff002b" stroke="#ff002b"/>
<polygon points="265.5,24.3 265.2,34.7 258.4,221.1 257.7,238.3 255.4,238 256.1,220.9 263.4,34.5 263.8,24.1" fill="#ff0029" stroke="#ff0029"/>
<polygon points="263.8,24.1 263.4,34.5 256.1,220.9 255.4,238 253.1,237.8 253.8,220.7 261.6,34.3 262,23.9" fill="#ff0027" stroke="#ff0027"/>
<polygon points="262,23.9 261.6,34.3 253.8,220.7 253.1,237.8 250.8,237.7 251.6,220.6 259.8,34.2 260.3,23.8" fill="#ff0025" stroke="#ff0025"/>
<polygon points="260.3,23.8 259.8,34.2 251.6,220.6 250.8,237.7 248.5,237.5 249.3,220.4 258,34.1 258.5,23.7" fill="#ff0023" stroke="#ff0023"/>
<polygon points="258.5,23.7 258,34.1 249.3,220.4 248.5,237.5 246.2,237.3 247.1,220.2 256.2,33.9 256.7,23.5" fill="#ff0021" stroke="#ff0021"/>
<polygon points="256.7,23.5 256.2,33.9 247.1,220.2 246.2,237.3 243.9,237.2 244.8,220.1 254.4,33.8 255,23.4" fill="#ff001f" stroke="#ff001f"/>
<polygon points="255,23.4 254.4,33.8 244.8,220.1 243.9,237.2 241.6,237 242.5,219.9 252.6,33.6 253.2,23.2" fill="#ff001e" stroke="#ff001e"/>
<polygon points="253.2,23.2 252.6,33.6 242.5,219.9 241.6,237 239.3,236.8 240.3,219.7 250.8,33.5 251.4,23.1" fill="#ff001c" stroke="#ff001c"/>
<polygon points="251.4,23.1 250.8,33.5 240.3,219.7 239.3,236.8 237,236.7 238,219.6 249.1,33.4 249.7,23" fill="#ff001a" stroke="#ff001a"/>
<polygon points="249.7,23 249.1,33.4 238,219.6 237,236.7 234.7,236.5 235.7,219.4 247.3,33.2 247.9,22.8" fill="#ff0018" stroke="#ff0018"/>
<polygon points="247.9,22.8 247.3,33.2 235.7,219.4 234.7,236.5 232.4,236.4 233.5,219.3 245.5,33.1 246.1,22.7" fill="#ff0016" stroke="#ff0016"/>
<polygon points="246.1,22.7 245.5,33.1 233.5,219.3 232.4,236.4 230.1,236.3 231.2,219.2 243.7,33 244.4,22.7" fill="#ff0015" stroke="#ff0015"/>
<polygon points="244.4,22.7 243.7,33 231.2,219.2 230.1,236.3 227.8,236.3 229,219.2 241.9,33 242.6,22.6" fill="#ff0014" stroke="#ff0014"/>
<polygon points="242.6,22.6 241.9,33 229,219.2 227.8,236.3 225.5,236.2 226.7,219.1 240.1,33 240.9,22.6" fill="#ff0013" stroke="#ff0013"/>
<polygon points="240.9,22.6 240.1,33 226.7,219.1 225.5,236.2 223.2,236.2 224.5,219.1 238.3,32.9 239.1,22.5" fill="#ff0012" stroke="#ff0012"/>
<polygon points="239.1,22.5 238.3,32.9 224.5,219.1 223.2,236.2 220.9,236.1 222.2,219 236.5,32.9 237.3,22.5" fill="#ff0011" stroke="#ff0011"/>
<polygon points="237.3,22.5 236.5,32.9 222.2,219 220.9,236.1 218.6,236.1 219.9,219 234.7,32.8 235.6,22.4" fill="#ff0011" stroke="#ff0011"/>
<polygon points="235.6,22.4 234.7,32.8 219.9,219 218.6,236.1 216.3,236 217.7,218.9 232.9,32.8 233.8,22.4" fill="#ff0010" stroke="#ff0010"/>
<polygon points="233.8,22.4 232.9,32.8 217.7,218.9 216.3,236 214,236 215.4,218.9 231.2,32.7 232,22.3" fill="#ff000f" stroke="#ff000f"/>
<polygon points="232,22.3 231.2,32.7 215.4,218.9 214,236 211.7,235.9 213.1,218.8 229.4,32.7 230.3,22.3" fill="#ff000e" stroke="#ff000e"/>
<polygon points="230.3,22.3 229.4,32.7 213.1,218.8 211.7,235.9 209.4,235.9 210.9,218.8 227.6,32.6 228.5,22.2" fill="#ff000d" stroke="#ff000d"/>
<polygon points="228.5,22.2 227.6,32.6 210.9,218.8 209.4,235.9 207,235.8 208.6,218.7 225.8,32.6 226.7,22.2" fill="#ff000c" stroke="#ff000c"/>
<polygon points="226.7,22.2 225.8,32.6 208.6,218.7 207,235.8 204.7,235.8 206.4,218.7 224,32.5 225,22.1" fill="#ff000b" stroke="#ff000b"/>
<polygon points="225,22.1 224,32.5 206.4,218.7 204.7,235.8 202.4,235.7 204.1,218.6 222.2,32.5 223.2,22.1" fill="#ff000a" stroke="#ff000a"/>
<polygon points="223.2,22.1 222.2,32.5 204.1,218.6 202.4,235.7 200.1,235.7 201.8,218.6 220.4,32.4 221.4,22" fill="#ff0009" stroke="#ff0009"/>
<polygon points="221.4,22 220.4,32.4 201.8,218.6 200.1,235.7 197.8,235.6 199.6,218.5 218.6,32.4 219.7,22" fill="#ff0009" stroke="#ff0009"/>
<polygon points="219.7,22 218.6,32.4 199.6,218.5 197.8,235.6 195.5,235.6 197.3,218.5 216.8,32.3 217.9,22" fill="#ff0008" stroke="#ff0008"/>
<polygon points="217.9,22 216.8,32.3 197.3,218.5 195.5,235.6 193.2,235.5 195,218.4 215,32.3 216.1,21.9" fill="#ff0007" stroke="#ff0007"/>
<polygon points="216.1,21.9 215,32.3 195,218.4 193.2,235.5 190.9,235.5 192.8,218.4 213.2,32.2 214.4,21.9" fill="#ff0006" stroke="#ff0006"/>
<polygon points="214.4,21.9 213.2,32.2 192.8,218.4 190.9,235.5 188.6,235.4 190.5,218.3 211.4,32.2 212.6,21.8" fill="#ff0005" stroke="#ff0005"/>
<polygon points="212.6,21.8 211.4,32.2 190.5,218.3 188.6,235.4 186.3,235.4 188.2,218.3 209.6,32.1 210.8,21.8" fill="#ff0004" stroke="#ff0004"/>
<polygon points="210.8,21.8 209.6,32.1 188.2,218.3 186.3,235.4 184,235.4 186,218.3 207.9,32.2 209.1,21.8" fill="#ff0003" stroke="#ff0003"/>
<polygon points="209.1,21.8 207.9,32.2 186,218.3 184,235.4 181.7,235.4 183.7,218.3 206.1,32.2 207.3,21.8" fill="#ff0003" stroke="#ff0003"/>
<polygon points="207.3,21.8 206.1,32.2 183.7,218.3 181.7,235.4 179.4,235.5 181.5,218.4 204.3,32.2 205.5,21.8" fill="#ff0003" stroke="#ff0003"/>
<polygon points="205.5,21.8 204.3,32.2 181.5,218.4 179.4,235.5 177.1,235.5 179.2,218.4 202.5,32.2 203.8,21.8" fill="#ff0003" stroke="#ff0003"/>
<polygon points="203.8,21.8 202.5,32.2 179.2,218.4 177.1,235.5 174.7,235.5 176.9,218.4 200.7,32.2 202,21.8" fill="#ff0002" stroke="#ff0002"/>
<polygon points="202,21.8 200.7,32.2 176.9,218.4 174.7,235.5 172.4,235.6 174.7,218.4 198.9,32.2 200.3,21.8" fill="#ff0002" stroke="#ff0002"/>
<polygon points="200.3,21.8 198.9,32.2 174.7,218.4 172.4,235.6 170.1,235.6 172.4,218.5 197.1,32.2 198.5,21.8" fill="#ff0002" stroke="#ff0002"/>
<polygon points="198.5,21.8 197.1,32.2 172.4,218.5 170.1,235.6 167.8,235.6 170.1,218.5 195.3,32.2 196.7,21.8" fill="#ff0002" stroke="#ff0002"/>
<polygon points="196.7,21.8 195.3,32.2 170.1,218.5 167.8,235.6 165.5,235.6 167.9,218.5 193.5,32.2 195,21.8" fill="#ff0002" stroke="#ff0002"/>
<polygon points="195,21.8 193.5,32.2 167.9,218.5 165.5,235.6 163.2,235.7 165.6,218.5 191.7,32.2 193.2,21.8" fill="#ff0002" stroke="#ff0002"/>
<polygon points="193.2,21.8 191.7,32.2 165.6,218.5 163.2,235.7 160.9,235.7 163.3,218.6 189.9,32.2 191.4,21.9" fill="#ff0002" stroke="#ff0002"/>
<polygon points="191.4,21.9 189.9,32.2 163.3,218.6 160.9,235.7 158.6,235.7 161.1,218.6 188.1,32.2 189.7,21.9" fill="#ff0001" stroke="#ff0001"/>
<polygon points="189.7,21.9 188.1,32.2 161.1,218.6 158.6,235.7 156.3,235.7 158.8,218.6 186.4,32.3 187.9,21.9" fill="#ff0001" stroke="#ff0001"/>
<polygon points="187.9,21.9 186.4,32.3 158.8,218.6 156.3,235.7 154,235.8 156.5,218.6 184.6,32.3 186.1,21.9" fill="#ff0001" stroke="#ff0001"/>
<polygon points="186.1,21.9 184.6,32.3 156.5,218.6 154,235.8 151.7,235.8 154.3,218.7 182.8,32.3 184.4,21.9" fill="#ff0001" stroke="#ff0001"/>
<polygon points="184.4,21.9 182.8,32.3 154.3,218.7 151.7,235.8 149.3,235.8 152,218.7 181,32.3 182.6,21.9" fill="#ff0001" stroke="#ff0001"/>
<polygon points="182.6,21.9 181,32.3 152,218.7 149.3,235.8 147,235.8 149.7,218.7 179.2,32.3 180.8,21.9" fill="#ff0001" stroke="#ff0001"/>
<polygon points="180.8,21.9 179.2,32.3 149.7,218.7 147,235.8 144.7,235.9 147.5,218.7 177.4,32.3 179,21.9" fill="#ff0000" stroke="#ff0000"/>
<polygon points="179,21.9 177.4,32.3 147.5,218.7 144.7,235.9 142.4,235.9 145.2,218.8 175.6,32.3 177.3,21.9" fill="#ff0000" stroke="#ff0000"/>
<polygon points="177.3,21.9 175.6,32.3 145.2,218.8 142.4,235.9 140.1,235.9 142.9,218.8 173.8,32.3 175.5,21.9" fill="#ff0000" stroke="#ff0000"/>
</g>
<g id="surf-valley" stroke-width="0.8" stroke-linejoin="round">
<polygon points="438.8,155 437.1,158.6 439.4,171.4 441.1,167.8" fill="#578100" stroke="#578100"/>
<polygon points="440.7,165.3 439,168.9 443.2,192.7 445,188.8" fill="#578100" stroke="#578100"/>
<polygon points="444.5,186.2 442.7,190 447.2,215 449,211" fill="#578100" stroke="#578100"/>
<polygon points="448.5,208.2 446.7,212.2 451.4,238.6 453.3,234.3" fill="#578100" stroke="#578100"/>
<polygon points="452.7,231.4 450.9,235.6 455.8,263.4 457.7,259" fill="#578100" stroke="#578100"/>
<polygon points="457.2,255.9 455.3,260.3 460.5,289.6 462.5,285" fill="#558100" stroke="#558100"/>
<polygon points="461.9,281.8 460,286.3 465.5,317.3 467.5,312.7" fill="#538100" stroke="#538100"/>
<polygon points="466.9,309.2 464.9,313.9 470.8,346.7 472.9,342" fill="#528100" stroke="#528100"/>
<polygon points="472.2,338.3 470.1,343.1 476.4,378 478.6,373.1" fill="#528100" stroke="#528100"/>
<polygon points="477.8,369.2 475.7,374.1 479.4,394.7 481.6,389.8" fill="#528100" stroke="#528100"/>
<polygon points="437.1,158.6 435.5,162.1 437.7,175.1 439.4,171.4" fill="#697400" stroke="#697400"/>
<polygon points="439,168.9 437.3,172.5 441.5,196.5 443.2,192.7" fill="#697400" stroke="#697400"/>
<polygon points="442.7,190 441,193.8 445.4,219 447.2,215" fill="#697400" stroke="#697400"/>
<polygon points="446.7,212.2 444.9,216.2 449.6,242.8 451.4,238.6" fill="#697400" stroke="#697400"/>
<polygon points="450.9,235.6 449,239.8 454,267.9 455.8,263.4" fill="#687400" stroke="#687400"/>
<polygon points="455.3,260.3 453.4,264.7 458.6,294.2 460.5,289.6" fill="#627400" stroke="#627400"/>
<polygon points="460,286.3 458,290.9 463.5,322 465.5,317.3" fill="#5c7400" stroke="#5c7400"/>
<polygon points="464.9,313.9 462.9,318.5 468.7,351.5 470.8,346.7" fill="#587400" stroke="#587400"/>
<polygon points="470.1,343.1 468.1,347.8 474.2,382.9 476.4,378" fill="#587400" stroke="#587400"/>
<polygon points="475.7,374.1 473.5,379 477.2,399.7 479.4,394.7" fill="#587400" stroke="#587400"/>
<polygon points="435.5,162.1 433.8,165.6 436,178.7 437.7,175.1" fill="#7b6800" stroke="#7b6800"/>
<polygon points="437.3,172.5 435.6,176.1 439.7,200.3 441.5,196.5" fill="#7b6800" stroke="#7b6800"/>
<polygon points="441,193.8 439.3,197.6 443.6,223 445.4,219" fill="#7b6800" stroke="#7b6800"/>
<polygon points="444.9,216.2 443.1,220.2 447.7,247 449.6,242.8" fill="#7b6800" stroke="#7b6800"/>
<polygon points="449,239.8 447.2,244 452.1,272.3 454,267.9" fill="#786700" stroke="#786700"/>
<polygon points="453.4,264.7 451.5,269.2 456.6,298.7 458.6,294.2" fill="#6f6700" stroke="#6f6700"/>
<polygon points="458,290.9 456.1,295.4 461.5,326.6 463.5,322" fill="#656700" stroke="#656700"/>
<polygon points="462.9,318.5 460.9,323.2 466.6,356.3 468.7,351.5" fill="#5e6700" stroke="#5e6700"/>
<polygon points="468.1,347.8 466,352.6 472.1,387.8 474.2,382.9" fill="#5e6700" stroke="#5e6700"/>
<polygon points="473.5,379 471.4,383.9 475,404.7 477.2,399.7" fill="#5e6700" stroke="#5e6700"/>
<polygon points="433.8,165.6 432.1,169.1 434.4,182.3 436,178.7" fill="#8c5b00" stroke="#8c5b00"/>
<polygon points="435.6,176.1 433.9,179.7 438,204.1 439.7,200.3" fill="#8c5b00" stroke="#8c5b00"/>
<polygon points="439.3,197.6 437.6,201.4 441.8,227 443.6,223" fill="#8c5b00" stroke="#8c5b00"/>
<polygon points="443.1,220.2 441.4,224.2 445.9,251.2 447.7,247" fill="#8c5b00" stroke="#8c5b00"/>
<polygon points="447.2,244 445.4,248.2 450.2,276.7 452.1,272.3" fill="#895b00" stroke="#895b00"/>
<polygon points="451.5,269.2 449.6,273.6 454.7,303.2 456.6,298.7" fill="#7c5a00" stroke="#7c5a00"/>
<polygon points="456.1,295.4 454.1,299.9 459.5,331.3 461.5,326.6" fill="#6e5a00" stroke="#6e5a00"/>
<polygon points="460.9,323.2 458.9,327.8 464.5,361.1 466.6,356.3" fill="#645a00" stroke="#645a00"/>
<polygon points="466,352.6 463.9,357.3 469.9,392.7 472.1,387.8" fill="#645a00" stroke="#645a00"/>
<polygon points="471.4,383.9 469.3,388.7 472.8,409.6 475,404.7" fill="#645a00" stroke="#645a00"/>
<polygon points="432.1,169.1 430.5,172.6 432.7,185.9 434.4,182.3" fill="#9e4e00" stroke="#9e4e00"/>
<polygon points="433.9,179.7 432.2,183.3 436.3,207.9 438,204.1" fill="#9e4e00" stroke="#9e4e00"/>
<polygon points="437.6,201.4 435.8,205.2 440.1,231 441.8,227" fill="#9e4e00" stroke="#9e4e00"/>
<polygon points="441.4,224.2 439.6,228.2 444.1,255.4 445.9,251.2" fill="#9e4e00" stroke="#9e4e00"/>
<polygon points="445.4,248.2 443.6,252.4 448.3,281.1 450.2,276.7" fill="#9a4e00" stroke="#9a4e00"/>
<polygon points="449.6,273.6 447.8,278 452.7,307.8 454.7,303.2" fill="#894d00" stroke="#894d00"/>
<polygon points="454.1,299.9 452.2,304.4 457.5,335.9 459.5,331.3" fill="#784d00" stroke="#784d00"/>
<polygon points="458.9,327.8 456.9,332.4 462.5,365.8 464.5,361.1" fill="#6a4c00" stroke="#6a4c00"/>
<polygon points="463.9,357.3 461.9,362.1 467.8,397.6 469.9,392.7" fill="#6a4c00" stroke="#6a4c00"/>
<polygon points="469.3,388.7 467.1,393.6 470.6,414.5 472.8,409.6" fill="#6a4c00" stroke="#6a4c00"/>
<polygon points="430.5,172.6 428.8,176.1 431,189.5 432.7,185.9" fill="#b04200" stroke="#b04200"/>
<polygon points="432.2,183.3 430.6,186.9 434.6,211.7 436.3,207.9" fill="#b04200" stroke="#b04200"/>
<polygon points="435.8,205.2 434.1,208.9 438.3,235 440.1,231" fill="#b04200" stroke="#b04200"/>
<polygon points="439.6,228.2 437.8,232.1 442.2,259.6 444.1,255.4" fill="#b04200" stroke="#b04200"/>
<polygon points="443.6,252.4 441.8,256.6 446.4,285.6 448.3,281.1" fill="#aa4100" stroke="#aa4100"/>
<polygon points="447.8,278 445.9,282.4 450.8,312.3 452.7,307.8" fill="#954100" stroke="#954100"/>
<polygon points="452.2,304.4 450.3,308.9 455.5,340.5 457.5,335.9" fill="#814000" stroke="#814000"/>
<polygon points="456.9,332.4 454.9,337 460.4,370.5 462.5,365.8" fill="#703f00" stroke="#703f00"/>
<polygon points="461.9,362.1 459.8,366.8 465.7,402.4 467.8,397.6" fill="#703f00" stroke="#703f00"/>
<polygon points="467.1,393.6 465,398.4 468.5,419.5 470.6,414.5" fill="#703f00" stroke="#703f00"/>
<polygon points="428.8,176.1 427.2,179.5 429.3,193.1 431,189.5" fill="#c13500" stroke="#c13500"/>
<polygon points="430.6,186.9 428.9,190.5 432.8,215.5 434.6,211.7" fill="#c13500" stroke="#c13500"/>
<polygon points="434.1,208.9 432.4,212.7 436.5,239 438.3,235" fill="#c13500" stroke="#c13500"/>
<polygon points="437.8,232.1 436.1,236.1 440.4,263.8 442.2,259.6" fill="#c13500" stroke="#c13500"/>
<polygon points="441.8,256.6 439.9,260.7 444.5,290 446.4,285.6" fill="#bb3500" stroke="#bb3500"/>
<polygon points="445.9,282.4 444,286.7 448.9,316.8 450.8,312.3" fill="#a23400" stroke="#a23400"/>
<polygon points="450.3,308.9 448.3,313.4 453.5,345.2 455.5,340.5" fill="#8a3300" stroke="#8a3300"/>
<polygon points="454.9,337 452.9,341.6 458.4,375.3 460.4,370.5" fill="#773200" stroke="#773200"/>
<polygon points="459.8,366.8 457.7,371.5 463.5,407.3 465.7,402.4" fill="#773200" stroke="#773200"/>
<polygon points="465,398.4 462.9,403.3 466.3,424.4 468.5,419.5" fill="#773200" stroke="#773200"/>
<polygon points="427.2,179.5 425.5,183 427.6,196.7 429.3,193.1" fill="#d32800" stroke="#d32800"/>
<polygon points="428.9,190.5 427.2,194 431.1,219.3 432.8,215.5" fill="#d32800" stroke="#d32800"/>
<polygon points="432.4,212.7 430.7,216.5 434.8,243 436.5,239" fill="#d32800" stroke="#d32800"/>
<polygon points="436.1,236.1 434.3,240.1 438.6,268 440.4,263.8" fill="#d32800" stroke="#d32800"/>
<polygon points="439.9,260.7 438.1,264.9 442.7,294.3 444.5,290" fill="#cb2800" stroke="#cb2800"/>
<polygon points="444,286.7 442.2,291.1 446.9,321.3 448.9,316.8" fill="#af2700" stroke="#af2700"/>
<polygon points="448.3,313.4 446.4,317.9 451.5,349.8 453.5,345.2" fill="#932600" stroke="#932600"/>
<polygon points="452.9,341.6 450.9,346.2 456.3,380 458.4,375.3" fill="#7d2500" stroke="#7d2500"/>
<polygon points="457.7,371.5 455.7,376.2 461.4,412.1 463.5,407.3" fill="#7d2500" stroke="#7d2500"/>
<polygon points="462.9,403.3 460.8,408.1 464.1,429.3 466.3,424.4" fill="#7d2500" stroke="#7d2500"/>
<polygon points="425.5,183 423.9,186.5 426,200.3 427.6,196.7" fill="#e51c00" stroke="#e51c00"/>
<polygon points="427.2,194 425.6,197.6 429.4,223.1 431.1,219.3" fill="#e51c00" stroke="#e51c00"/>
<polygon points="430.7,216.5 429,220.2 433,247 434.8,243" fill="#e51c00" stroke="#e51c00"/>
<polygon points="434.3,240.1 432.5,244 436.8,272.2 438.6,268" fill="#e51c00" stroke="#e51c00"/>
<polygon points="438.1,264.9 436.3,269.1 440.8,298.7 442.7,294.3" fill="#dc1b00" stroke="#dc1b00"/>
<polygon points="442.2,291.1 440.3,295.5 445,325.8 446.9,321.3" fill="#bc1a00" stroke="#bc1a00"/>
<polygon points="446.4,317.9 444.5,322.4 449.5,354.4 451.5,349.8" fill="#9c1900" stroke="#9c1900"/>
<polygon points="450.9,346.2 448.9,350.8 454.2,384.7 456.3,380" fill="#831800" stroke="#831800"/>
<polygon points="455.7,376.2 453.6,380.9 459.3,416.9 461.4,412.1" fill="#831800" stroke="#831800"/>
<polygon points="460.8,408.1 458.7,412.9 462,434.2 464.1,429.3" fill="#831800" stroke="#831800"/>
<polygon points="423.9,186.5 422.2,190 424.3,203.9 426,200.3" fill="#f60f00" stroke="#f60f00"/>
<polygon points="425.6,197.6 423.9,201.2 427.7,226.8 429.4,223.1" fill="#f60f00" stroke="#f60f00"/>
<polygon points="429,220.2 427.3,224 431.2,251 433,247" fill="#f60f00" stroke="#f60f00"/>
<polygon points="432.5,244 430.8,247.9 435,276.4 436.8,272.2" fill="#f60f00" stroke="#f60f00"/>
<polygon points="436.3,269.1 434.5,273.2 438.9,303.1 440.8,298.7" fill="#ed0f00" stroke="#ed0f00"/>
<polygon points="440.3,295.5 438.4,299.8 443.1,330.2 445,325.8" fill="#c90d00" stroke="#c90d00"/>
<polygon points="444.5,322.4 442.6,326.8 447.5,359 449.5,354.4" fill="#a50c00" stroke="#a50c00"/>
<polygon points="448.9,350.8 447,355.4 452.2,389.4 454.2,384.7" fill="#890b00" stroke="#890b00"/>
<polygon points="453.6,380.9 451.6,385.6 457.2,421.7 459.3,416.9" fill="#890b00" stroke="#890b00"/>
<polygon points="458.7,412.9 456.5,417.7 459.8,439 462,434.2" fill="#890b00" stroke="#890b00"/>
<polygon points="422.2,190 420.5,186 422.6,199.9 424.3,203.9" fill="#fc1900" stroke="#fc1900"/>
<polygon points="423.9,201.2 422.2,197.2 425.9,222.8 427.7,226.8" fill="#fc1900" stroke="#fc1900"/>
<polygon points="427.3,224 425.5,220 429.4,246.9 431.2,251" fill="#fc1900" stroke="#fc1900"/>
<polygon points="430.8,247.9 429,243.9 433.1,272.2 435,276.4" fill="#fc1900" stroke="#fc1900"/>
<polygon points="434.5,273.2 432.7,269 437,298.9 438.9,303.1" fill="#f41900" stroke="#f41900"/>
<polygon points="438.4,299.8 436.5,295.6 441.2,326 443.1,330.2" fill="#d61800" stroke="#d61800"/>
<polygon points="442.6,326.8 440.6,322.6 445.5,354.8 447.5,359" fill="#b81700" stroke="#b81700"/>
<polygon points="447,355.4 445,351.2 450.1,385.3 452.2,389.4" fill="#a01600" stroke="#a01600"/>
<polygon points="451.6,385.6 449.6,381.5 455.1,417.7 457.2,421.7" fill="#a01600" stroke="#a01600"/>
<polygon points="456.5,417.7 454.4,413.6 457.7,435 459.8,439" fill="#a01600" stroke="#a01600"/>
<polygon points="420.5,186 418.8,182.1 420.8,196 422.6,199.9" fill="#f53a00" stroke="#f53a00"/>
<polygon points="422.2,197.2 420.4,193.3 424.1,218.8 425.9,222.8" fill="#f53a00" stroke="#f53a00"/>
<polygon points="425.5,220 423.7,215.9 427.6,242.8 429.4,246.9" fill="#f53a00" stroke="#f53a00"/>
<polygon points="429,243.9 427.2,239.8 431.3,268 433.1,272.2" fill="#f53a00" stroke="#f53a00"/>
<polygon points="432.7,269 430.8,264.9 435.1,294.6 437,298.9" fill="#f13a00" stroke="#f13a00"/>
<polygon points="436.5,295.6 434.6,291.3 439.2,321.8 441.2,326" fill="#e23900" stroke="#e23900"/>
<polygon points="440.6,322.6 438.7,318.4 443.5,350.6 445.5,354.8" fill="#d33900" stroke="#d33900"/>
<polygon points="445,351.2 443,347 448.1,381.1 450.1,385.3" fill="#c73800" stroke="#c73800"/>
<polygon points="449.6,381.5 447.5,377.3 452.9,413.6 455.1,417.7" fill="#c73800" stroke="#c73800"/>
<polygon points="454.4,413.6 452.3,409.5 455.5,430.9 457.7,435" fill="#c73800" stroke="#c73800"/>
</g>
<g id="mesh" fill="none" stroke="#333" stroke-width="2.0" stroke-opacity="0.95">
<polyline points="632.4,11.4 637.4,21.5 726.5,201.5 734.7,218"/>
<polyline points="602.3,13.7 606.9,23.8 688.2,204.4 695.7,221"/>
<polyline points="572.1,18 576.3,27.6 649.8,209.1 656.5,225.8"/>
<polyline points="541.8,26.6 545.5,35.5 611.1,218.5 617.1,235.2"/>
<polyline points="511.5,44 514.7,52 572.2,237.6 577.4,255"/>
<polyline points="481.2,75.9 484,83.7 533.2,274.3 537.7,292.9"/>
<polyline points="451.4,126.7 453.7,138 494.5,337.6 498.2,355.8"/>
<polyline points="422.2,190 424.1,202.5 456.9,419.7 459.8,439"/>
<polyline points="392,123.5 393.5,135.3 419.3,345.5 421.6,364.6"/>
<polyline points="361.1,73 362.1,84.1 380.4,282.8 382.1,304.5"/>
<polyline points="330.1,44.5 330.7,55.3 340.9,246.8 341.8,264.7"/>
<polyline points="299.1,30.5 299.2,41 301.3,229 301.5,246.2"/>
<polyline points="268.2,24.6 267.9,35 261.7,221.5 261.2,238.8"/>
<polyline points="237.3,22.5 236.5,32.9 222.2,219 220.9,236.1"/>
<polyline points="206.4,21.8 205.2,32.2 182.6,218.4 180.5,235.5"/>
<polyline points="667.8,20.1 633,21.7 598.1,24.5 580.6,26.8 571.9,28.4 563.1,30.3 554.3,32.7 545.5,35.5 536.7,39.1 528,43.5 519.2,48.8 510.4,55.3 501.6,63.1 492.8,72.6 484,83.7 475.3,96.7 466.6,111.6 458,128.4 440.9,166.5 424.1,202.5 406.7,162.7 389,126.1 380.1,110.2 371.1,96.2 362.1,84.1 353.1,73.8 344.1,65.2 335.2,58.1 326.2,52.4 317.2,47.7 308.2,44 299.2,41 290.3,38.7 281.3,36.9 272.3,35.5 263.4,34.5 245.5,33.1 209.6,32.1 173.8,32.3" stroke-width="1.4"/>
<polyline points="673.4,30.4 638.1,32.1 602.7,34.9 584.9,37.3 576,38.9 567.1,40.8 558.2,43.2 549.3,46.1 540.4,49.7 531.5,54.1 522.5,59.5 513.6,66 504.7,73.9 495.8,83.4 486.9,94.7 478,107.8 469.2,122.9 460.4,139.8 443.1,178.4 426,215.5 408.4,175.2 390.4,138.1 381.4,122 372.3,107.8 363.2,95.6 354.1,85.1 344.9,76.4 335.8,69.2 326.7,63.4 317.6,58.6 308.4,54.8 299.3,51.8 290.2,49.5 281.1,47.7 272,46.3 263,45.2 244.8,43.8 208.4,42.8 172,43" stroke-width="1.4"/>
<polyline points="679.2,41.1 643.3,42.8 607.4,45.7 589.4,48.1 580.3,49.6 571.3,51.6 562.3,54 553.2,56.9 544.1,60.6 535.1,65 526,70.4 516.9,77.1 507.9,85.1 498.8,94.7 489.8,106 480.8,119.3 471.8,134.5 462.9,151.6 445.3,190.6 428,228.8 410.1,188.1 391.9,150.6 382.7,134.2 373.5,119.8 364.3,107.4 355,96.8 345.8,87.9 336.5,80.6 327.2,74.7 318,69.9 308.7,66 299.5,63 290.2,60.6 281,58.7 271.8,57.3 262.5,56.2 244.1,54.8 207.2,53.9 170.2,54.1" stroke-width="1.4"/>
<polyline points="685.1,52.1 648.7,53.8 612.2,56.7 593.9,59.1 584.8,60.8 575.6,62.7 566.4,65.2 557.2,68.1 548,71.8 538.8,76.3 529.6,81.8 520.4,88.5 511.2,96.5 502,106.2 492.8,117.7 483.6,131.1 474.5,146.4 465.5,163.7 447.6,203.2 430,242.4 411.9,201.4 393.4,163.3 384.1,146.8 374.8,132.2 365.4,119.6 356,108.8 346.6,99.8 337.2,92.4 327.8,86.4 318.4,81.5 309,77.6 299.6,74.5 290.2,72 280.8,70.2 271.5,68.7 262.1,67.6 243.3,66.2 205.8,65.2 168.3,65.4" stroke-width="1.4"/>
<polyline points="691.2,63.4 654.3,65.2 617.2,68.1 598.6,70.6 589.3,72.2 580,74.2 570.7,76.7 561.4,79.7 552,83.4 542.7,87.9 533.3,93.4 523.9,100.2 514.6,108.4 505.2,118.1 495.9,129.7 486.6,143.3 477.3,158.8 468.1,176.2 449.9,216.1 432.1,256.5 413.7,215 395,176.5 385.6,159.7 376.1,144.9 366.5,132.1 357,121.2 347.5,112.1 337.9,104.5 328.3,98.4 318.8,93.4 309.3,89.5 299.7,86.3 290.2,83.9 280.7,81.9 271.1,80.5 261.6,79.3 242.6,77.9 204.5,76.9 166.4,77.2" stroke-width="1.4"/>
<polyline points="697.5,75.1 660,76.9 622.4,79.9 603.5,82.4 594,84 584.6,86.1 575.1,88.5 565.6,91.6 556.1,95.3 546.6,99.9 537.1,105.5 527.6,112.3 518.1,120.6 508.6,130.4 499.1,142.1 489.6,155.8 480.2,171.5 470.9,189.1 452.4,229.5 434.2,271.1 415.6,229.1 396.6,190.1 387,173.1 377.4,158.1 367.7,145 358,134 348.3,124.7 338.6,117 328.9,110.8 319.2,105.8 309.5,101.7 299.9,98.5 290.2,96 280.5,94.1 270.8,92.6 261.1,91.5 241.8,90 203.1,89 164.4,89.3" stroke-width="1.4"/>
<polyline points="704,87.2 665.9,89 627.7,92 608.5,94.6 598.9,96.2 589.3,98.3 579.7,100.8 570,103.9 560.4,107.6 550.7,112.3 541,117.9 531.4,124.8 521.7,133.2 512,143.1 502.4,155 492.8,168.8 483.2,184.6 473.7,202.5 454.9,243.2 436.4,286.1 417.5,243.7 398.3,204.1 388.5,186.9 378.8,171.6 369,158.4 359.1,147.1 349.3,137.7 339.4,130 329.5,123.6 319.7,118.5 309.8,114.4 300,111.2 290.2,108.6 280.3,106.6 270.5,105.1 260.7,104 241,102.5 201.7,101.5 162.3,101.8" stroke-width="1.4"/>
<polyline points="710.7,99.6 672,101.5 633.2,104.6 613.7,107.1 603.9,108.8 594.1,110.9 584.4,113.4 574.6,116.5 564.8,120.4 554.9,125 545.1,130.8 535.3,137.7 525.4,146.1 515.6,156.2 505.8,168.2 496,182.1 486.3,198.2 476.6,216.2 457.5,257.4 438.7,301.5 419.5,258.7 400,218.6 390.1,201.1 380.2,185.6 370.2,172.2 360.2,160.8 350.2,151.2 340.2,143.3 330.2,136.8 320.2,131.6 310.2,127.5 300.1,124.2 290.1,121.6 280.1,119.6 270.1,118.1 260.2,116.9 240.2,115.4 200.2,114.4 160.2,114.7" stroke-width="1.4"/>
<polyline points="717.7,112.5 678.3,114.4 638.8,117.5 619,120.1 609.1,121.9 599.2,124 589.2,126.5 579.3,129.7 569.3,133.5 559.3,138.2 549.3,144 539.3,151.1 529.3,159.6 519.3,169.8 509.3,181.8 499.4,195.9 489.5,212.1 479.6,230.4 460.1,272.1 441,316.8 421.6,274.1 401.8,233.5 391.7,215.8 381.6,200 371.5,186.4 361.4,174.8 351.2,165.1 341,157.1 330.8,150.5 320.6,145.2 310.5,141 300.3,137.7 290.1,135 280,133 269.8,131.4 259.6,130.3 239.3,128.7 198.7,127.8 157.9,128.1" stroke-width="1.4"/>
<polyline points="724.9,125.8 684.9,127.7 644.7,130.9 624.6,133.6 614.5,135.3 604.4,137.4 594.2,140 584.1,143.2 574,147.1 563.8,151.9 553.7,157.7 543.5,164.9 533.3,173.5 523.1,183.8 513,196 502.9,210.2 492.8,226.6 482.7,245 462.9,287.2 443.5,332.5 423.7,290.1 403.6,248.9 393.4,230.9 383.2,215 372.9,201.1 362.5,189.4 352.2,179.5 341.9,171.3 331.5,164.7 321.1,159.3 310.8,155 300.4,151.6 290.1,148.9 279.8,146.9 269.4,145.3 259.1,144.1 238.4,142.5 197.1,141.6 155.7,141.9" stroke-width="1.4"/>
<polyline points="732.3,139.5 691.6,141.5 650.8,144.8 630.3,147.5 620,149.2 609.7,151.4 599.4,154 589.1,157.2 578.8,161.2 568.5,166 558.1,171.9 547.8,179.1 537.4,187.8 527.1,198.2 516.7,210.6 506.4,225 496.2,241.5 486,260.2 465.8,302.9 446,348.8 425.9,306.6 405.5,264.9 395.1,246.6 384.7,230.4 374.3,216.4 363.8,204.4 353.3,194.3 342.7,186.1 332.2,179.3 321.7,173.8 311.1,169.5 300.6,166 290.1,163.3 279.6,161.2 269,159.6 258.5,158.4 237.5,156.8 195.4,155.8 153.3,156.2" stroke-width="1.4"/>
<polyline points="740,153.8 698.6,155.8 657,159.1 636.2,161.9 625.8,163.6 615.3,165.8 604.8,168.5 594.3,171.7 583.8,175.7 573.3,180.6 562.8,186.6 552.3,193.9 541.7,202.7 531.2,213.2 520.6,225.7 510.1,240.2 499.7,257 489.3,275.9 468.7,319.1 448.5,365.6 428.2,323.7 407.5,281.3 396.9,262.8 386.3,246.4 375.7,232.1 365,219.9 354.3,209.7 343.6,201.3 332.9,194.4 322.2,188.9 311.5,184.4 300.8,180.9 290.1,178.2 279.4,176 268.7,174.4 258,173.2 236.6,171.6 193.7,170.6 150.8,171" stroke-width="1.4"/>
<polyline points="747.9,168.5 705.8,170.6 663.5,174 642.3,176.7 631.7,178.6 621.1,180.8 610.4,183.5 599.7,186.8 589,190.8 578.3,195.7 567.6,201.8 556.9,209.2 546.1,218 535.4,228.7 524.7,241.3 514,256.1 503.3,273 492.7,292.1 471.8,335.8 451.2,383 430.6,341.3 409.5,298.4 398.8,279.6 388,262.9 377.2,248.4 366.3,236 355.5,225.7 344.6,217.1 333.7,210.1 322.8,204.5 311.8,199.9 300.9,196.4 290,193.6 279.1,191.4 268.2,189.8 257.4,188.5 235.6,186.9 192,185.9 148.3,186.4" stroke-width="1.4"/>
<polyline points="756.2,183.8 713.3,185.9 670.3,189.4 648.7,192.2 637.9,194 627,196.3 616.2,199 605.3,202.3 594.4,206.4 583.5,211.4 572.6,217.5 561.7,225 550.7,234 539.8,244.8 528.9,257.5 518,272.4 507.1,289.6 496.3,308.9 474.9,353.2 454,401.1 433,359.6 411.6,316 400.7,297 389.8,280 378.7,265.3 367.7,252.7 356.6,242.2 345.5,233.5 334.4,226.4 323.3,220.6 312.2,216 301.1,212.4 290,209.5 278.9,207.3 267.8,205.7 256.7,204.4 234.5,202.8 190.1,201.8 145.7,202.3" stroke-width="1.4"/>
<polyline points="764.7,199.6 721.1,201.8 677.3,205.3 655.3,208.2 644.2,210 633.2,212.3 622.2,215.1 611.1,218.5 600,222.6 588.9,227.7 577.8,233.9 566.6,241.4 555.5,250.5 544.3,261.4 533.2,274.3 522.1,289.4 511,306.8 500,326.3 478.2,371.1 456.9,419.7 435.6,378.5 413.8,334.3 402.7,315 391.6,297.7 380.4,282.8 369.1,270 357.8,259.3 346.5,250.4 335.2,243.2 323.9,237.4 312.6,232.7 301.3,229 290,226.1 278.7,223.9 267.4,222.2 256.1,220.9 233.5,219.3 188.2,218.3 142.9,218.8" stroke-width="1.4"/>
</g>
<polygon points="662.4,10 628.1,11.6 593.7,14.4 559.2,20.1 524.5,33.1 489.9,62 455.6,117.2 438.8,155 422.2,190 405.1,150.5 387.6,114.4 378.8,98.7 370,84.9 361.1,73 352.3,62.8 343.4,54.4 334.5,47.4 325.7,41.7 316.8,37.1 307.9,33.4 299.1,30.5 290.3,28.3 281.4,26.5 272.6,25.1 263.8,24.1 246.1,22.7 210.8,21.8 175.5,21.9 140.1,235.9 186.3,235.4 232.4,236.4 255.4,238 278.5,241 301.5,246.2 324.5,254.7 347.6,268 370.6,287.9 416,353.3 438.2,398.1 459.8,439 481.6,389.8 503.8,344.4 526.3,307 549,278.7 571.8,258.4 594.5,244.5 617.1,235.2 639.6,229 662.1,224.8 684.5,221.9 729.1,218.3 773.6,216" fill="none" stroke="#000" stroke-width="1.8" stroke-linejoin="miter"/>
<g id="box-front" fill="none" stroke-linecap="round">
<line x1="125.8" y1="237.7" x2="789.3" y2="216.9" stroke="#7d7d7d" stroke-width="1.5"/>
<line x1="789.3" y1="216.9" x2="771.2" y2="441.7" stroke="#8f8f8f" stroke-width="1.3"/>
<line x1="125.8" y1="237.7" x2="144" y2="466" stroke="#383838" stroke-width="1.7"/>
<line x1="144" y1="466" x2="771.2" y2="441.7" stroke="#383838" stroke-width="1.7"/>
<line x1="670.4" y1="3.3" x2="789.3" y2="216.9" stroke="#383838" stroke-width="1.7"/>
<line x1="759.4" y1="442.1" x2="759.7" y2="437.5" stroke="#383838" stroke-width="1.6"/>
<line x1="710" y1="444" x2="710.6" y2="435.4" stroke="#383838" stroke-width="1.6"/>
<line x1="660.5" y1="445.9" x2="660.7" y2="441.3" stroke="#383838" stroke-width="1.6"/>
<line x1="610.8" y1="447.9" x2="611" y2="443.2" stroke="#383838" stroke-width="1.6"/>
<line x1="561" y1="449.8" x2="561.1" y2="445.2" stroke="#383838" stroke-width="1.6"/>
<line x1="511" y1="451.7" x2="511" y2="447.1" stroke="#383838" stroke-width="1.6"/>
<line x1="460.8" y1="453.7" x2="460.8" y2="445" stroke="#383838" stroke-width="1.6"/>
<line x1="410.5" y1="455.6" x2="410.4" y2="451" stroke="#383838" stroke-width="1.6"/>
<line x1="360" y1="457.6" x2="359.8" y2="452.9" stroke="#383838" stroke-width="1.6"/>
<line x1="309.3" y1="459.6" x2="309.1" y2="454.9" stroke="#383838" stroke-width="1.6"/>
<line x1="258.5" y1="461.5" x2="258.2" y2="456.9" stroke="#383838" stroke-width="1.6"/>
<line x1="207.5" y1="463.5" x2="206.9" y2="454.7" stroke="#383838" stroke-width="1.6"/>
<line x1="156.3" y1="465.5" x2="155.9" y2="460.8" stroke="#383838" stroke-width="1.6"/>
<line x1="143.7" y1="461.8" x2="154.4" y2="461.4" stroke="#383838" stroke-width="1.6"/>
<line x1="142.7" y1="450.1" x2="147.9" y2="449.9" stroke="#383838" stroke-width="1.6"/>
<line x1="141.8" y1="438.3" x2="146.9" y2="438.1" stroke="#383838" stroke-width="1.6"/>
<line x1="140.8" y1="426.4" x2="146" y2="426.2" stroke="#383838" stroke-width="1.6"/>
<line x1="139.9" y1="414.4" x2="145.1" y2="414.2" stroke="#383838" stroke-width="1.6"/>
<line x1="138.9" y1="402.4" x2="149.9" y2="402" stroke="#383838" stroke-width="1.6"/>
<line x1="138" y1="390.3" x2="143.2" y2="390.1" stroke="#383838" stroke-width="1.6"/>
<line x1="137" y1="378.1" x2="142.2" y2="377.9" stroke="#383838" stroke-width="1.6"/>
<line x1="136" y1="365.9" x2="141.3" y2="365.7" stroke="#383838" stroke-width="1.6"/>
<line x1="135" y1="353.5" x2="140.3" y2="353.3" stroke="#383838" stroke-width="1.6"/>
<line x1="134" y1="341.1" x2="145.2" y2="340.7" stroke="#383838" stroke-width="1.6"/>
<line x1="133.1" y1="328.7" x2="138.4" y2="328.5" stroke="#383838" stroke-width="1.6"/>
<line x1="132.1" y1="316.1" x2="137.4" y2="315.9" stroke="#383838" stroke-width="1.6"/>
<line x1="131" y1="303.5" x2="136.4" y2="303.3" stroke="#383838" stroke-width="1.6"/>
<line x1="130" y1="290.7" x2="135.4" y2="290.6" stroke="#383838" stroke-width="1.6"/>
<line x1="129" y1="277.9" x2="140.3" y2="277.6" stroke="#383838" stroke-width="1.6"/>
<line x1="128" y1="265.1" x2="133.4" y2="264.9" stroke="#383838" stroke-width="1.6"/>
<line x1="127" y1="252.1" x2="132.4" y2="251.9" stroke="#383838" stroke-width="1.6"/>
<line x1="125.9" y1="239.1" x2="131.3" y2="238.9" stroke="#383838" stroke-width="1.6"/>
<line x1="672.1" y1="6.5" x2="668.6" y2="6.5" stroke="#383838" stroke-width="1.6"/>
<line x1="679.6" y1="19.9" x2="675.9" y2="20" stroke="#383838" stroke-width="1.6"/>
<line x1="687.4" y1="33.8" x2="680.3" y2="34" stroke="#383838" stroke-width="1.6"/>
<line x1="695.4" y1="48.3" x2="691.6" y2="48.4" stroke="#383838" stroke-width="1.6"/>
<line x1="703.9" y1="63.4" x2="700" y2="63.5" stroke="#383838" stroke-width="1.6"/>
<line x1="712.6" y1="79.2" x2="708.7" y2="79.3" stroke="#383838" stroke-width="1.6"/>
<line x1="721.8" y1="95.6" x2="714.1" y2="95.8" stroke="#383838" stroke-width="1.6"/>
<line x1="731.3" y1="112.8" x2="727.2" y2="112.9" stroke="#383838" stroke-width="1.6"/>
<line x1="741.3" y1="130.8" x2="737.1" y2="130.9" stroke="#383838" stroke-width="1.6"/>
<line x1="751.8" y1="149.5" x2="747.5" y2="149.7" stroke="#383838" stroke-width="1.6"/>
<line x1="762.8" y1="169.2" x2="754.4" y2="169.5" stroke="#383838" stroke-width="1.6"/>
<line x1="774.2" y1="189.9" x2="769.7" y2="190" stroke="#383838" stroke-width="1.6"/>
<line x1="786.3" y1="211.5" x2="781.7" y2="211.7" stroke="#383838" stroke-width="1.6"/>
</g>
<g font-family="'Liberation Sans', Arial, sans-serif" font-weight="bold" font-size="21.5" fill="#111">
<text x="113.7" y="285.7" text-anchor="middle">3</text>
<text x="118.2" y="348.7" text-anchor="middle">2</text>
<text x="122.4" y="410.2" text-anchor="middle">1</text>
<text x="128.1" y="468.6" text-anchor="middle">0</text>
<text x="207.8" y="491.3" text-anchor="middle">5</text>
<text x="458.8" y="481.5" text-anchor="middle">0</text>
<text x="706.8" y="472.4" text-anchor="middle">−5</text>
<text x="707" y="39.7" text-anchor="middle">−2</text>
<text x="736" y="101.5" text-anchor="middle">0</text>
<text x="777" y="175" text-anchor="middle">2</text>
<text x="459.7" y="514.7" text-anchor="middle" font-style="italic">k</text>
<text x="767" y="101" text-anchor="middle" font-style="italic">t</text>
<text font-style="italic" font-size="23"><tspan x="1.5" y="360">s</tspan><tspan x="15.4" y="366.3" font-size="18" font-style="normal">1,2</tspan><tspan x="42.5" y="359.6" font-size="25" font-weight="normal" font-style="normal">(</tspan><tspan x="50.6" y="359.6">k, </tspan><tspan x="77.4" y="359.6">t</tspan><tspan x="84.3" y="359.6" font-size="25" font-weight="normal" font-style="normal">)</tspan></text>
</g>
</g>
<g id="plotb">
<g fill="none" stroke="#6b6b6b" stroke-width="1.6">
<line x1="981.8" y1="507.6" x2="1740.8" y2="507.6"/>
<line x1="1361.3" y1="63.1" x2="1361.3" y2="530.7"/>
<path d="M997 507.6v-9M1027.3 507.6v-5M1057.7 507.6v-5M1088.1 507.6v-5M1118.4 507.6v-9M1148.8 507.6v-5M1179.1 507.6v-5M1209.5 507.6v-5M1239.9 507.6v-9M1270.2 507.6v-5M1300.6 507.6v-5M1330.9 507.6v-5M1391.7 507.6v-5M1422 507.6v-5M1452.4 507.6v-5M1482.7 507.6v-9M1513.1 507.6v-5M1543.5 507.6v-5M1573.8 507.6v-5M1604.2 507.6v-9M1634.5 507.6v-5M1664.9 507.6v-5M1695.3 507.6v-5M1725.6 507.6v-9M1361.3 519.6h4.5M1361.3 495.8h4.5M1361.3 484h4.5M1361.3 472.1h4.5M1361.3 460.3h4.5M1361.3 448.4h8M1361.3 436.6h4.5M1361.3 424.7h4.5M1361.3 412.9h4.5M1361.3 401h4.5M1361.3 389.1h8M1361.3 377.3h4.5M1361.3 365.4h4.5M1361.3 353.6h4.5M1361.3 341.7h4.5M1361.3 329.9h8M1361.3 318h4.5M1361.3 306.2h4.5M1361.3 294.3h4.5M1361.3 282.5h4.5M1361.3 270.6h8M1361.3 258.7h4.5M1361.3 246.9h4.5M1361.3 235h4.5M1361.3 223.2h4.5M1361.3 211.3h8M1361.3 199.5h4.5M1361.3 187.6h4.5M1361.3 175.8h4.5M1361.3 163.9h4.5M1361.3 152.1h8M1361.3 140.2h4.5M1361.3 128.3h4.5M1361.3 116.5h4.5M1361.3 104.6h4.5M1361.3 92.8h8M1361.3 80.9h4.5M1361.3 69.1h4.5"/>
</g>
<g fill="none" stroke-width="3.1" stroke-linejoin="round">
<polyline points="995.2,86.1 998.2,86.1 1001.2,86.2 1004.3,86.2 1007.3,86.3 1010.4,86.4 1013.4,86.4 1016.4,86.5 1019.5,86.6 1022.5,86.7 1025.5,86.8 1028.6,86.9 1031.6,87 1034.7,87.1 1037.7,87.2 1040.7,87.3 1043.8,87.5 1046.8,87.6 1049.9,87.8 1052.9,87.9 1055.9,88.1 1059,88.3 1062,88.4 1065,88.6 1068.1,88.8 1071.1,89.1 1074.2,89.3 1077.2,89.5 1080.2,89.8 1083.3,90 1086.3,90.3 1089.4,90.6 1092.4,91 1095.4,91.3 1098.5,91.6 1101.5,92 1104.5,92.4 1107.6,92.8 1110.6,93.3 1113.7,93.8 1116.7,94.2 1119.7,94.8 1122.8,95.3 1125.8,95.9 1128.9,96.5 1131.9,97.2 1134.9,97.9 1138,98.6 1141,99.4 1144,100.2 1147.1,101 1150.1,101.9 1153.2,102.9 1156.2,103.9 1159.2,104.9 1162.3,106 1165.3,107.2 1168.4,108.5 1171.4,109.8 1174.4,111.2 1177.5,112.6 1180.5,114.1 1183.5,115.8 1186.6,117.5 1189.6,119.3 1192.7,121.1 1195.7,123.1 1198.7,125.2 1201.8,127.4 1204.8,129.7 1207.9,132.2 1210.9,134.7 1213.9,137.4 1217,140.2 1220,143.2 1223,146.3 1226.1,149.5 1229.1,153 1232.2,156.5 1235.2,160.3 1238.2,164.2 1241.3,168.3 1244.3,172.6 1247.4,177.1 1250.4,181.8 1253.4,186.7 1256.5,191.9 1259.5,197.2 1262.5,202.8 1265.6,208.6 1268.6,214.6 1271.7,220.9 1274.7,227.4 1277.7,234.1 1280.8,241.1 1283.8,248.4 1286.9,255.9 1289.9,263.7 1292.9,271.7 1296,280 1299,288.5 1302,297.3 1305.1,306.3 1308.1,315.6 1311.2,325.1 1314.2,334.9 1317.2,344.8 1320.3,355 1323.3,365.4 1326.4,376 1329.4,386.8 1332.4,397.8 1335.5,408.9 1338.5,420.2 1341.5,431.6 1344.6,443.1 1347.6,454.7 1350.7,466.4 1353.7,478.1 1356.7,489.9 1359.8,501.8 1361.3,508.7 1362.8,501.8 1365.9,489.9 1368.9,478.1 1371.9,466.4 1375,454.7 1378,443.1 1381.1,431.6 1384.1,420.2 1387.1,408.9 1390.2,397.8 1393.2,386.8 1396.2,376 1399.3,365.4 1402.3,355 1405.4,344.8 1408.4,334.9 1411.4,325.1 1414.5,315.6 1417.5,306.3 1420.6,297.3 1423.6,288.5 1426.6,280 1429.7,271.7 1432.7,263.7 1435.7,255.9 1438.8,248.4 1441.8,241.1 1444.9,234.1 1447.9,227.4 1450.9,220.9 1454,214.6 1457,208.6 1460.1,202.8 1463.1,197.2 1466.1,191.9 1469.2,186.7 1472.2,181.8 1475.2,177.1 1478.3,172.6 1481.3,168.3 1484.4,164.2 1487.4,160.3 1490.4,156.5 1493.5,153 1496.5,149.5 1499.6,146.3 1502.6,143.2 1505.6,140.2 1508.7,137.4 1511.7,134.7 1514.7,132.2 1517.8,129.7 1520.8,127.4 1523.9,125.2 1526.9,123.1 1529.9,121.1 1533,119.3 1536,117.5 1539.1,115.8 1542.1,114.1 1545.1,112.6 1548.2,111.2 1551.2,109.8 1554.2,108.5 1557.3,107.2 1560.3,106 1563.4,104.9 1566.4,103.9 1569.4,102.9 1572.5,101.9 1575.5,101 1578.6,100.2 1581.6,99.4 1584.6,98.6 1587.7,97.9 1590.7,97.2 1593.7,96.5 1596.8,95.9 1599.8,95.3 1602.9,94.8 1605.9,94.2 1608.9,93.8 1612,93.3 1615,92.8 1618.1,92.4 1621.1,92 1624.1,91.6 1627.2,91.3 1630.2,91 1633.2,90.6 1636.3,90.3 1639.3,90 1642.4,89.8 1645.4,89.5 1648.4,89.3 1651.5,89.1 1654.5,88.8 1657.6,88.6 1660.6,88.4 1663.6,88.3 1666.7,88.1 1669.7,87.9 1672.7,87.8 1675.8,87.6 1678.8,87.5 1681.9,87.3 1684.9,87.2 1687.9,87.1 1691,87 1694,86.9 1697.1,86.8 1700.1,86.7 1703.1,86.6 1706.2,86.5 1709.2,86.4 1712.2,86.4 1715.3,86.3 1718.3,86.2 1721.4,86.2 1724.4,86.1 1727.4,86.1" stroke="#ff0000" stroke-width="3.1"/>
<polyline points="995.2,85.9 998.2,86 1001.2,86 1004.3,86.1 1007.3,86.1 1010.4,86.2 1013.4,86.2 1016.4,86.3 1019.5,86.4 1022.5,86.4 1025.5,86.5 1028.6,86.6 1031.6,86.7 1034.7,86.8 1037.7,86.9 1040.7,87 1043.8,87.1 1046.8,87.2 1049.9,87.3 1052.9,87.5 1055.9,87.6 1059,87.8 1062,87.9 1065,88.1 1068.1,88.3 1071.1,88.4 1074.2,88.6 1077.2,88.8 1080.2,89.1 1083.3,89.3 1086.3,89.5 1089.4,89.8 1092.4,90.1 1095.4,90.3 1098.5,90.6 1101.5,91 1104.5,91.3 1107.6,91.6 1110.6,92 1113.7,92.4 1116.7,92.8 1119.7,93.3 1122.8,93.8 1125.8,94.3 1128.9,94.8 1131.9,95.3 1134.9,95.9 1138,96.5 1141,97.2 1144,97.9 1147.1,98.6 1150.1,99.4 1153.2,100.2 1156.2,101 1159.2,101.9 1162.3,102.9 1165.3,103.9 1168.4,104.9 1171.4,106.1 1174.4,107.2 1177.5,108.5 1180.5,109.8 1183.5,111.2 1186.6,112.6 1189.6,114.1 1192.7,115.8 1195.7,117.5 1198.7,119.3 1201.8,121.1 1204.8,123.1 1207.9,125.2 1210.9,127.4 1213.9,129.7 1217,132.2 1220,134.7 1223,137.4 1226.1,140.2 1229.1,143.2 1232.2,146.3 1235.2,149.5 1238.2,153 1241.3,156.6 1244.3,160.3 1247.4,164.2 1250.4,168.4 1253.4,172.7 1256.5,177.2 1259.5,181.9 1262.5,186.8 1265.6,191.9 1268.6,197.2 1271.7,202.8 1274.7,208.6 1277.7,214.6 1280.8,220.9 1283.8,227.4 1286.9,234.1 1289.9,241.2 1292.9,248.4 1296,255.9 1299,263.7 1302,271.7 1305.1,280 1308.1,288.5 1311.2,297.3 1314.2,306.3 1317.2,315.6 1320.3,325.1 1323.3,334.9 1326.4,344.9 1329.4,355.1 1332.4,365.5 1335.5,376.1 1338.5,386.8 1341.5,397.8 1344.6,408.9 1347.6,420.2 1350.7,431.6 1353.7,443.1 1356.7,454.7 1359.8,466.4 1362.8,478.2 1365.9,490 1368.9,501.8 1370.4,508.7 1371.9,501.7 1375,489.9 1378,478.1 1381.1,466.4 1384.1,454.7 1387.1,443 1390.2,431.5 1393.2,420.1 1396.2,408.9 1399.3,397.7 1402.3,386.8 1405.4,376 1408.4,365.4 1411.4,355 1414.5,344.8 1417.5,334.8 1420.6,325.1 1423.6,315.6 1426.6,306.3 1429.7,297.3 1432.7,288.5 1435.7,280 1438.8,271.7 1441.8,263.7 1444.9,255.9 1447.9,248.4 1450.9,241.1 1454,234.1 1457,227.4 1460.1,220.8 1463.1,214.6 1466.1,208.6 1469.2,202.8 1472.2,197.2 1475.2,191.9 1478.3,186.7 1481.3,181.8 1484.4,177.1 1487.4,172.6 1490.4,168.3 1493.5,164.2 1496.5,160.3 1499.6,156.5 1502.6,153 1505.6,149.5 1508.7,146.3 1511.7,143.2 1514.7,140.2 1517.8,137.4 1520.8,134.7 1523.9,132.1 1526.9,129.7 1529.9,127.4 1533,125.2 1536,123.1 1539.1,121.1 1542.1,119.2 1545.1,117.5 1548.2,115.8 1551.2,114.1 1554.2,112.6 1557.3,111.2 1560.3,109.8 1563.4,108.5 1566.4,107.2 1569.4,106 1572.5,104.9 1575.5,103.9 1578.6,102.9 1581.6,101.9 1584.6,101 1587.7,100.2 1590.7,99.4 1593.7,98.6 1596.8,97.9 1599.8,97.2 1602.9,96.5 1605.9,95.9 1608.9,95.3 1612,94.8 1615,94.2 1618.1,93.8 1621.1,93.3 1624.1,92.8 1627.2,92.4 1630.2,92 1633.2,91.6 1636.3,91.3 1639.3,91 1642.4,90.6 1645.4,90.3 1648.4,90 1651.5,89.8 1654.5,89.5 1657.6,89.3 1660.6,89.1 1663.6,88.8 1666.7,88.6 1669.7,88.4 1672.7,88.3 1675.8,88.1 1678.8,87.9 1681.9,87.8 1684.9,87.6 1687.9,87.5 1691,87.3 1694,87.2 1697.1,87.1 1700.1,87 1703.1,86.9 1706.2,86.8 1709.2,86.7 1712.2,86.6 1715.3,86.5 1718.3,86.4 1721.4,86.4 1724.4,86.3 1727.4,86.2" stroke="#800080" stroke-width="3.1"/>
<polyline points="995.2,85.8 998.2,85.8 1001.2,85.9 1004.3,85.9 1007.3,86 1010.4,86 1013.4,86.1 1016.4,86.1 1019.5,86.2 1022.5,86.2 1025.5,86.3 1028.6,86.4 1031.6,86.4 1034.7,86.5 1037.7,86.6 1040.7,86.7 1043.8,86.8 1046.8,86.9 1049.9,87 1052.9,87.1 1055.9,87.2 1059,87.3 1062,87.5 1065,87.6 1068.1,87.8 1071.1,87.9 1074.2,88.1 1077.2,88.3 1080.2,88.4 1083.3,88.6 1086.3,88.8 1089.4,89.1 1092.4,89.3 1095.4,89.5 1098.5,89.8 1101.5,90.1 1104.5,90.3 1107.6,90.6 1110.6,91 1113.7,91.3 1116.7,91.6 1119.7,92 1122.8,92.4 1125.8,92.8 1128.9,93.3 1131.9,93.8 1134.9,94.3 1138,94.8 1141,95.3 1144,95.9 1147.1,96.5 1150.1,97.2 1153.2,97.9 1156.2,98.6 1159.2,99.4 1162.3,100.2 1165.3,101 1168.4,101.9 1171.4,102.9 1174.4,103.9 1177.5,104.9 1180.5,106.1 1183.5,107.2 1186.6,108.5 1189.6,109.8 1192.7,111.2 1195.7,112.6 1198.7,114.2 1201.8,115.8 1204.8,117.5 1207.9,119.3 1210.9,121.1 1213.9,123.1 1217,125.2 1220,127.4 1223,129.7 1226.1,132.2 1229.1,134.7 1232.2,137.4 1235.2,140.2 1238.2,143.2 1241.3,146.3 1244.3,149.6 1247.4,153 1250.4,156.6 1253.4,160.3 1256.5,164.2 1259.5,168.4 1262.5,172.7 1265.6,177.2 1268.6,181.9 1271.7,186.8 1274.7,191.9 1277.7,197.2 1280.8,202.8 1283.8,208.6 1286.9,214.6 1289.9,220.9 1292.9,227.4 1296,234.2 1299,241.2 1302,248.4 1305.1,255.9 1308.1,263.7 1311.2,271.7 1314.2,280 1317.2,288.6 1320.3,297.3 1323.3,306.4 1326.4,315.6 1329.4,325.2 1332.4,334.9 1335.5,344.9 1338.5,355.1 1341.5,365.5 1344.6,376.1 1347.6,386.9 1350.7,397.8 1353.7,408.9 1356.7,420.2 1359.8,431.6 1362.8,443.1 1365.9,454.7 1368.9,466.4 1371.9,478.2 1375,490 1378,501.8 1379.5,508.7 1381.1,501.7 1384.1,489.9 1387.1,478.1 1390.2,466.3 1393.2,454.6 1396.2,443 1399.3,431.5 1402.3,420.1 1405.4,408.8 1408.4,397.7 1411.4,386.8 1414.5,376 1417.5,365.4 1420.6,355 1423.6,344.8 1426.6,334.8 1429.7,325.1 1432.7,315.6 1435.7,306.3 1438.8,297.2 1441.8,288.5 1444.9,279.9 1447.9,271.7 1450.9,263.6 1454,255.9 1457,248.4 1460.1,241.1 1463.1,234.1 1466.1,227.3 1469.2,220.8 1472.2,214.6 1475.2,208.5 1478.3,202.7 1481.3,197.2 1484.4,191.8 1487.4,186.7 1490.4,181.8 1493.5,177.1 1496.5,172.6 1499.6,168.3 1502.6,164.2 1505.6,160.3 1508.7,156.5 1511.7,152.9 1514.7,149.5 1517.8,146.3 1520.8,143.2 1523.9,140.2 1526.9,137.4 1529.9,134.7 1533,132.1 1536,129.7 1539.1,127.4 1542.1,125.2 1545.1,123.1 1548.2,121.1 1551.2,119.2 1554.2,117.5 1557.3,115.8 1560.3,114.1 1563.4,112.6 1566.4,111.1 1569.4,109.8 1572.5,108.5 1575.5,107.2 1578.6,106 1581.6,104.9 1584.6,103.9 1587.7,102.9 1590.7,101.9 1593.7,101 1596.8,100.2 1599.8,99.4 1602.9,98.6 1605.9,97.9 1608.9,97.2 1612,96.5 1615,95.9 1618.1,95.3 1621.1,94.8 1624.1,94.2 1627.2,93.8 1630.2,93.3 1633.2,92.8 1636.3,92.4 1639.3,92 1642.4,91.6 1645.4,91.3 1648.4,91 1651.5,90.6 1654.5,90.3 1657.6,90 1660.6,89.8 1663.6,89.5 1666.7,89.3 1669.7,89.1 1672.7,88.8 1675.8,88.6 1678.8,88.4 1681.9,88.3 1684.9,88.1 1687.9,87.9 1691,87.8 1694,87.6 1697.1,87.5 1700.1,87.3 1703.1,87.2 1706.2,87.1 1709.2,87 1712.2,86.9 1715.3,86.8 1718.3,86.7 1721.4,86.6 1724.4,86.5 1727.4,86.4" stroke="#00ff00" stroke-width="3.1"/>
</g>
<g font-family="'Liberation Sans', Arial, sans-serif" font-size="22" fill="#1c1c1c">
<text transform="translate(996.5 535.9) scale(1 1.12)" text-anchor="middle">−6</text>
<text transform="translate(1117.9 535.9) scale(1 1.12)" text-anchor="middle">−4</text>
<text transform="translate(1239.4 535.9) scale(1 1.12)" text-anchor="middle">−2</text>
<text transform="translate(1482.7 535.9) scale(1 1.12)" text-anchor="middle">2</text>
<text transform="translate(1604.2 535.9) scale(1 1.12)" text-anchor="middle">4</text>
<text transform="translate(1725.6 535.9) scale(1 1.12)" text-anchor="middle">6</text>
<text transform="translate(1354.3 456.9) scale(1 1.12)" text-anchor="end">0.5</text>
<text transform="translate(1354.3 397.6) scale(1 1.12)" text-anchor="end">1.0</text>
<text transform="translate(1354.3 338.4) scale(1 1.12)" text-anchor="end">1.5</text>
<text transform="translate(1354.3 279.1) scale(1 1.12)" text-anchor="end">2.0</text>
<text transform="translate(1354.3 219.8) scale(1 1.12)" text-anchor="end">2.5</text>
<text transform="translate(1354.3 160.6) scale(1 1.12)" text-anchor="end">3.0</text>
<text transform="translate(1354.3 101.3) scale(1 1.12)" text-anchor="end">3.5</text>
</g>
<g font-family="'Liberation Sans', Arial, sans-serif" font-size="20.5" font-style="italic" fill="#7a7a7a">
<text transform="translate(1361.8 44.1) scale(1 1.12)" text-anchor="middle">t</text>
<text transform="translate(1763.8 514.7) scale(1 1.12)" text-anchor="middle">k</text>
</g>
<rect x="1553.1" y="170.8" width="31.5" height="7.5" fill="#f20000"/>
<text x="1602.3" y="179.5" font-family="'Liberation Sans', Arial, sans-serif" font-size="18.6" font-weight="bold" fill="#4a1414">t = 0</text>
<rect x="1556.2" y="213.7" width="31.8" height="7.5" fill="#6a0072"/>
<text x="1602.3" y="220.5" font-family="'Liberation Sans', Arial, sans-serif" font-size="18.6" font-weight="bold" fill="#4a1414">t = 15</text>
<rect x="1556.2" y="260.1" width="33.7" height="7.5" fill="#5ff500"/>
<text x="1604.2" y="266.8" font-family="'Liberation Sans', Arial, sans-serif" font-size="18.6" font-weight="bold" fill="#4a1414">t = 30</text>
</g>
<g id="plotc">
<text x="872.5" y="957" font-family="'Liberation Serif', serif" font-style="italic" font-weight="bold" font-size="21" fill="#111" text-anchor="middle">ξ</text>
<g fill="none" stroke="#6b6b6b" stroke-width="1.6">
<line x1="493.1" y1="1160.5" x2="1252.1" y2="1160.5"/>
<line x1="872.6" y1="715.9" x2="872.6" y2="1183.1"/>
<path d="M508.3 1160.5v-9M538.6 1160.5v-5M569 1160.5v-5M599.4 1160.5v-5M629.7 1160.5v-9M660.1 1160.5v-5M690.4 1160.5v-5M720.8 1160.5v-5M751.2 1160.5v-9M781.5 1160.5v-5M811.9 1160.5v-5M842.2 1160.5v-5M903 1160.5v-5M933.3 1160.5v-5M963.7 1160.5v-5M994 1160.5v-9M1024.4 1160.5v-5M1054.8 1160.5v-5M1085.1 1160.5v-5M1115.5 1160.5v-9M1145.8 1160.5v-5M1176.2 1160.5v-5M1206.6 1160.5v-5M1236.9 1160.5v-9M872.6 1171.9h4.5M872.6 1148.3h4.5M872.6 1136.4h4.5M872.6 1124.6h4.5M872.6 1112.7h4.5M872.6 1100.9h8M872.6 1089h4.5M872.6 1077.2h4.5M872.6 1065.3h4.5M872.6 1053.5h4.5M872.6 1041.6h8M872.6 1029.8h4.5M872.6 1018h4.5M872.6 1006.1h4.5M872.6 994.3h4.5M872.6 982.4h8M872.6 970.6h4.5M872.6 958.7h4.5M872.6 946.9h4.5M872.6 935h4.5M872.6 923.2h8M872.6 911.4h4.5M872.6 899.5h4.5M872.6 887.7h4.5M872.6 875.8h4.5M872.6 864h8M872.6 852.1h4.5M872.6 840.3h4.5M872.6 828.4h4.5M872.6 816.6h4.5M872.6 804.7h8M872.6 792.9h4.5M872.6 781.1h4.5M872.6 769.2h4.5M872.6 757.4h4.5M872.6 745.5h8M872.6 733.7h4.5M872.6 721.8h4.5"/>
</g>
<g fill="none" stroke-width="3.1" stroke-linejoin="round">
<polyline points="506.5,738.1 509.5,738.1 512.5,738.2 515.6,738.2 518.6,738.2 521.7,738.2 524.7,738.2 527.7,738.3 530.8,738.3 533.8,738.3 536.8,738.3 539.9,738.4 542.9,738.4 546,738.4 549,738.5 552,738.5 555.1,738.6 558.1,738.6 561.2,738.6 564.2,738.7 567.2,738.7 570.3,738.8 573.3,738.9 576.3,738.9 579.4,739 582.4,739.1 585.5,739.1 588.5,739.2 591.5,739.3 594.6,739.4 597.6,739.5 600.7,739.6 603.7,739.7 606.7,739.8 609.8,739.9 612.8,740 615.8,740.1 618.9,740.3 621.9,740.4 625,740.6 628,740.7 631,740.9 634.1,741.1 637.1,741.3 640.2,741.5 643.2,741.7 646.2,741.9 649.3,742.2 652.3,742.4 655.3,742.7 658.4,743 661.4,743.3 664.5,743.6 667.5,743.9 670.5,744.3 673.6,744.7 676.6,745.1 679.7,745.5 682.7,746 685.7,746.4 688.8,747 691.8,747.5 694.8,748.1 697.9,748.7 700.9,749.3 704,750 707,750.7 710,751.4 713.1,752.2 716.1,753 719.2,753.9 722.2,754.9 725.2,755.8 728.3,756.9 731.3,758 734.3,759.1 737.4,760.4 740.4,761.7 743.5,763 746.5,764.5 749.5,766 752.6,767.6 755.6,769.3 758.7,771.1 761.7,773 764.7,775 767.8,777.1 770.8,779.3 773.8,781.7 776.9,784.1 779.9,786.7 783,789.4 786,792.3 789,795.3 792.1,798.4 795.1,801.7 798.2,805.2 801.2,808.9 804.2,812.7 807.3,816.7 810.3,821 813.3,825.4 816.4,830 819.4,834.8 822.5,839.9 825.5,845.2 828.5,850.7 831.6,856.4 834.6,862.4 837.7,868.6 840.7,875.1 843.7,881.9 846.8,888.9 849.8,896.1 852.8,903.7 855.9,911.5 858.9,919.6 862,927.9 865,936.5 868,945.4 871.1,954.5 874.1,963.9 877.2,973.6 880.2,983.5 883.2,993.6 886.3,1004 889.3,1014.6 892.4,1025.4 895.4,1036.4 898.4,1047.6 901.5,1059 904.5,1070.5 907.5,1082.2 910.6,1094 913.6,1105.9 916.7,1117.9 919.7,1130 922.7,1142.1 925.8,1154.2 927.2,1161.1 928.8,1153.8 931.9,1141.7 934.9,1129.6 937.9,1117.5 941,1105.5 944,1093.6 947,1081.9 950.1,1070.2 953.1,1058.7 956.2,1047.3 959.2,1036.1 962.2,1025.1 965.3,1014.3 968.3,1003.7 971.4,993.3 974.4,983.2 977.4,973.3 980.5,963.6 983.5,954.3 986.5,945.1 989.6,936.2 992.6,927.6 995.7,919.3 998.7,911.2 1001.7,903.5 1004.8,895.9 1007.8,888.7 1010.9,881.7 1013.9,874.9 1016.9,868.4 1020,862.2 1023,856.2 1026,850.5 1029.1,845 1032.1,839.7 1035.2,834.7 1038.2,829.9 1041.2,825.2 1044.3,820.8 1047.3,816.6 1050.4,812.6 1053.4,808.8 1056.4,805.1 1059.5,801.6 1062.5,798.3 1065.5,795.2 1068.6,792.2 1071.6,789.3 1074.7,786.6 1077.7,784 1080.7,781.6 1083.8,779.3 1086.8,777 1089.9,774.9 1092.9,773 1095.9,771.1 1099,769.3 1102,767.6 1105,766 1108.1,764.4 1111.1,763 1114.2,761.6 1117.2,760.3 1120.2,759.1 1123.3,758 1126.3,756.9 1129.4,755.8 1132.4,754.8 1135.4,753.9 1138.5,753 1141.5,752.2 1144.5,751.4 1147.6,750.6 1150.6,749.9 1153.7,749.3 1156.7,748.6 1159.7,748 1162.8,747.5 1165.8,746.9 1168.9,746.4 1171.9,746 1174.9,745.5 1178,745.1 1181,744.7 1184,744.3 1187.1,743.9 1190.1,743.6 1193.2,743.3 1196.2,743 1199.2,742.7 1202.3,742.4 1205.3,742.2 1208.4,741.9 1211.4,741.7 1214.4,741.5 1217.5,741.3 1220.5,741.1 1223.5,740.9 1226.6,740.7 1229.6,740.6 1232.7,740.4 1235.7,740.3 1238.7,740.1" stroke="#ff0000" stroke-width="2.7"/>
<polyline points="506.5,738.6 509.5,738.7 512.5,738.7 515.6,738.8 518.6,738.8 521.7,738.9 524.7,738.9 527.7,739 530.8,739.1 533.8,739.1 536.8,739.2 539.9,739.3 542.9,739.4 546,739.5 549,739.5 552,739.6 555.1,739.8 558.1,739.9 561.2,740 564.2,740.1 567.2,740.2 570.3,740.4 573.3,740.5 576.3,740.7 579.4,740.8 582.4,741 585.5,741.2 588.5,741.4 591.5,741.6 594.6,741.8 597.6,742 600.7,742.3 603.7,742.5 606.7,742.8 609.8,743.1 612.8,743.4 615.8,743.7 618.9,744 621.9,744.4 625,744.8 628,745.2 631,745.6 634.1,746 637.1,746.5 640.2,747 643.2,747.5 646.2,748.1 649.3,748.7 652.3,749.3 655.3,749.9 658.4,750.6 661.4,751.3 664.5,752.1 667.5,752.9 670.5,753.8 673.6,754.7 676.6,755.6 679.7,756.6 682.7,757.7 685.7,758.8 688.8,760 691.8,761.2 694.8,762.5 697.9,763.9 700.9,765.3 704,766.9 707,768.5 710,770.2 713.1,772 716.1,773.9 719.2,775.9 722.2,777.9 725.2,780.1 728.3,782.5 731.3,784.9 734.3,787.4 737.4,790.1 740.4,792.9 743.5,795.9 746.5,799 749.5,802.3 752.6,805.7 755.6,809.3 758.7,813 761.7,816.9 764.7,821 767.8,825.3 770.8,829.8 773.8,834.5 776.9,839.4 779.9,844.6 783,849.9 786,855.5 789,861.2 792.1,867.3 795.1,873.5 798.2,880 801.2,886.8 804.2,893.8 807.3,901 810.3,908.5 813.3,916.3 816.4,924.3 819.4,932.6 822.5,941.1 825.5,949.9 828.5,958.9 831.6,968.2 834.6,977.7 837.7,987.4 840.7,997.4 843.7,1007.6 846.8,1018 849.8,1028.6 852.8,1039.4 855.9,1050.3 858.9,1061.4 862,1072.7 865,1084.1 868,1095.6 871.1,1107.2 874.1,1118.9 877.2,1130.6 880.2,1142.4 883.2,1154.2 884.7,1161.1 886.3,1154.1 889.3,1142.3 892.4,1130.5 895.4,1118.8 898.4,1107.1 901.5,1095.5 904.5,1084 907.5,1072.6 910.6,1061.3 913.6,1050.2 916.7,1039.3 919.7,1028.5 922.7,1017.9 925.8,1007.5 928.8,997.3 931.9,987.4 934.9,977.6 937.9,968.1 941,958.9 944,949.8 947,941.1 950.1,932.5 953.1,924.3 956.2,916.3 959.2,908.5 962.2,901 965.3,893.7 968.3,886.7 971.4,880 974.4,873.5 977.4,867.2 980.5,861.2 983.5,855.4 986.5,849.9 989.6,844.5 992.6,839.4 995.7,834.5 998.7,829.8 1001.7,825.3 1004.8,821 1007.8,816.9 1010.9,813 1013.9,809.2 1016.9,805.6 1020,802.2 1023,799 1026,795.9 1029.1,792.9 1032.1,790.1 1035.2,787.4 1038.2,784.9 1041.2,782.4 1044.3,780.1 1047.3,777.9 1050.4,775.8 1053.4,773.9 1056.4,772 1059.5,770.2 1062.5,768.5 1065.5,766.9 1068.6,765.3 1071.6,763.9 1074.7,762.5 1077.7,761.2 1080.7,760 1083.8,758.8 1086.8,757.7 1089.9,756.6 1092.9,755.6 1095.9,754.7 1099,753.8 1102,752.9 1105,752.1 1108.1,751.3 1111.1,750.6 1114.2,749.9 1117.2,749.3 1120.2,748.7 1123.3,748.1 1126.3,747.5 1129.4,747 1132.4,746.5 1135.4,746 1138.5,745.6 1141.5,745.2 1144.5,744.8 1147.6,744.4 1150.6,744 1153.7,743.7 1156.7,743.4 1159.7,743.1 1162.8,742.8 1165.8,742.5 1168.9,742.3 1171.9,742 1174.9,741.8 1178,741.6 1181,741.4 1184,741.2 1187.1,741 1190.1,740.8 1193.2,740.7 1196.2,740.5 1199.2,740.4 1202.3,740.2 1205.3,740.1 1208.4,740 1211.4,739.9 1214.4,739.8 1217.5,739.6 1220.5,739.5 1223.5,739.5 1226.6,739.4 1229.6,739.3 1232.7,739.2 1235.7,739.1 1238.7,739.1" stroke="#800080" stroke-width="3.0"/>
<polyline points="506.5,738.7 509.5,738.8 512.5,738.8 515.6,738.9 518.6,739 521.7,739 524.7,739.1 527.7,739.2 530.8,739.2 533.8,739.3 536.8,739.4 539.9,739.5 542.9,739.6 546,739.7 549,739.8 552,739.9 555.1,740.1 558.1,740.2 561.2,740.3 564.2,740.5 567.2,740.6 570.3,740.8 573.3,740.9 576.3,741.1 579.4,741.3 582.4,741.5 585.5,741.7 588.5,741.9 591.5,742.2 594.6,742.4 597.6,742.7 600.7,743 603.7,743.3 606.7,743.6 609.8,743.9 612.8,744.3 615.8,744.6 618.9,745 621.9,745.4 625,745.9 628,746.3 631,746.8 634.1,747.3 637.1,747.8 640.2,748.4 643.2,749 646.2,749.7 649.3,750.3 652.3,751 655.3,751.8 658.4,752.6 661.4,753.4 664.5,754.3 667.5,755.2 670.5,756.2 673.6,757.2 676.6,758.3 679.7,759.5 682.7,760.7 685.7,762 688.8,763.3 691.8,764.8 694.8,766.3 697.9,767.8 700.9,769.5 704,771.3 707,773.1 710,775 713.1,777.1 716.1,779.2 719.2,781.5 722.2,783.9 725.2,786.4 728.3,789 731.3,791.8 734.3,794.7 737.4,797.7 740.4,800.9 743.5,804.3 746.5,807.8 749.5,811.5 752.6,815.3 755.6,819.4 758.7,823.6 761.7,828 764.7,832.6 767.8,837.4 770.8,842.5 773.8,847.7 776.9,853.2 779.9,858.9 783,864.8 786,871 789,877.4 792.1,884 795.1,890.9 798.2,898.1 801.2,905.5 804.2,913.2 807.3,921.1 810.3,929.2 813.3,937.7 816.4,946.3 819.4,955.3 822.5,964.4 825.5,973.8 828.5,983.5 831.6,993.4 834.6,1003.5 837.7,1013.8 840.7,1024.3 843.7,1035 846.8,1045.9 849.8,1056.9 852.8,1068.1 855.9,1079.5 858.9,1090.9 862,1102.5 865,1114.1 868,1125.9 871.1,1137.7 874.1,1149.5 876.9,1161.1 877.2,1158.9 880.2,1147.1 883.2,1135.3 886.3,1123.5 889.3,1111.8 892.4,1100.1 895.4,1088.6 898.4,1077.2 901.5,1065.8 904.5,1054.7 907.5,1043.7 910.6,1032.8 913.6,1022.1 916.7,1011.7 919.7,1001.4 922.7,991.4 925.8,981.5 928.8,971.9 931.9,962.6 934.9,953.4 937.9,944.6 941,935.9 944,927.6 947,919.4 950.1,911.6 953.1,904 956.2,896.6 959.2,889.5 962.2,882.7 965.3,876.1 968.3,869.7 971.4,863.6 974.4,857.7 977.4,852.1 980.5,846.6 983.5,841.4 986.5,836.4 989.6,831.7 992.6,827.1 995.7,822.7 998.7,818.5 1001.7,814.5 1004.8,810.7 1007.8,807.1 1010.9,803.6 1013.9,800.3 1016.9,797.1 1020,794.1 1023,791.2 1026,788.5 1029.1,785.9 1032.1,783.4 1035.2,781 1038.2,778.8 1041.2,776.7 1044.3,774.6 1047.3,772.7 1050.4,770.9 1053.4,769.2 1056.4,767.5 1059.5,765.9 1062.5,764.5 1065.5,763.1 1068.6,761.7 1071.6,760.4 1074.7,759.2 1077.7,758.1 1080.7,757 1083.8,756 1086.8,755 1089.9,754.1 1092.9,753.2 1095.9,752.4 1099,751.6 1102,750.9 1105,750.2 1108.1,749.5 1111.1,748.9 1114.2,748.3 1117.2,747.7 1120.2,747.2 1123.3,746.7 1126.3,746.2 1129.4,745.8 1132.4,745.3 1135.4,744.9 1138.5,744.5 1141.5,744.2 1144.5,743.8 1147.6,743.5 1150.6,743.2 1153.7,742.9 1156.7,742.6 1159.7,742.4 1162.8,742.1 1165.8,741.9 1168.9,741.7 1171.9,741.5 1174.9,741.3 1178,741.1 1181,740.9 1184,740.7 1187.1,740.6 1190.1,740.4 1193.2,740.3 1196.2,740.2 1199.2,740 1202.3,739.9 1205.3,739.8 1208.4,739.7 1211.4,739.6 1214.4,739.5 1217.5,739.4 1220.5,739.3 1223.5,739.2 1226.6,739.2 1229.6,739.1 1232.7,739 1235.7,739 1238.7,738.9" stroke="#00ff00" stroke-width="3.2"/>
</g>
<g font-family="'Liberation Sans', Arial, sans-serif" font-size="22" fill="#1c1c1c">
<text transform="translate(507.8 1188.3) scale(1 1.12)" text-anchor="middle">−6</text>
<text transform="translate(629.2 1188.3) scale(1 1.12)" text-anchor="middle">−4</text>
<text transform="translate(750.7 1188.3) scale(1 1.12)" text-anchor="middle">−2</text>
<text transform="translate(994 1188.3) scale(1 1.12)" text-anchor="middle">2</text>
<text transform="translate(1115.5 1188.3) scale(1 1.12)" text-anchor="middle">4</text>
<text transform="translate(1236.9 1188.3) scale(1 1.12)" text-anchor="middle">6</text>
<text transform="translate(865.6 1109.4) scale(1 1.12)" text-anchor="end">0.5</text>
<text transform="translate(865.6 1050.1) scale(1 1.12)" text-anchor="end">1.0</text>
<text transform="translate(865.6 990.9) scale(1 1.12)" text-anchor="end">1.5</text>
<text transform="translate(865.6 931.7) scale(1 1.12)" text-anchor="end">2.0</text>
<text transform="translate(865.6 872.5) scale(1 1.12)" text-anchor="end">2.5</text>
<text transform="translate(865.6 813.2) scale(1 1.12)" text-anchor="end">3.0</text>
<text transform="translate(865.6 754) scale(1 1.12)" text-anchor="end">3.5</text>
</g>
<g font-family="'Liberation Sans', Arial, sans-serif" font-size="20.5" font-style="italic" fill="#7a7a7a">
<text transform="translate(873.1 696.9) scale(1 1.12)" text-anchor="middle">t</text>
<text transform="translate(1275.1 1167.1) scale(1 1.12)" text-anchor="middle">k</text>
</g>
<rect x="1082.6" y="830" width="27.9" height="7.5" fill="#f20000"/>
<text x="1116" y="840.1" font-family="'Liberation Sans', Arial, sans-serif" font-size="18.6" font-weight="bold" fill="#4a1414"><tspan font-style="italic" font-weight="normal" font-size="21">ξ</tspan> = 0.01</text>
<rect x="1080.9" y="876.5" width="27.9" height="7.5" fill="#6a0072"/>
<text x="1116" y="884.7" font-family="'Liberation Sans', Arial, sans-serif" font-size="18.6" font-weight="bold" fill="#4a1414"><tspan font-style="italic" font-weight="normal" font-size="21">ξ</tspan> = 0.04</text>
<rect x="1080.9" y="923" width="27.9" height="7.5" fill="#5ff500"/>
<text x="1116" y="928.8" font-family="'Liberation Sans', Arial, sans-serif" font-size="18.6" font-weight="bold" fill="#4a1414"><tspan font-style="italic" font-weight="normal" font-size="21">ξ</tspan> = 0.09</text>
</g>
<g font-family="'Liberation Serif', 'Times New Roman', serif" font-size="38.7" fill="#111">
<text x="309.5" y="614.3">(a)  <tspan dx="-2.5">3D plot</tspan></text>
<text x="1267" y="614.3">(b)  <tspan font-style="italic" dx="-3.7">t</tspan><tspan dx="3.7"> - variant</tspan></text>
<text x="777" y="1266.3">(c)  <tspan font-style="italic" dx="-4.6" font-size="43">ξ</tspan><tspan dx="2.6"> - variant</tspan></text>
</g>
</svg></body></html>
